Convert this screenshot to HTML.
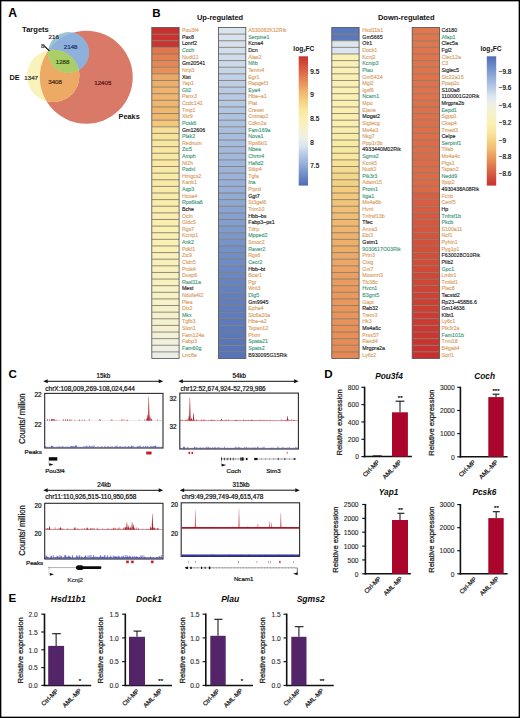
<!DOCTYPE html>
<html><head><meta charset="utf-8"><title>Figure</title>
<style>html,body{margin:0;padding:0;background:#fff;width:520px;height:718px;overflow:hidden}svg{display:block}</style>
</head><body>
<svg width="520" height="718" viewBox="0 0 520 718" font-family='"Liberation Sans", sans-serif'>
<defs><linearGradient id="gup" x1="0" y1="0" x2="0" y2="1"><stop offset="0.000" stop-color="#c83030"/><stop offset="0.050" stop-color="#d04838"/><stop offset="0.120" stop-color="#dc6848"/><stop offset="0.200" stop-color="#e89058"/><stop offset="0.280" stop-color="#f0b870"/><stop offset="0.340" stop-color="#f4d080"/><stop offset="0.410" stop-color="#f8e79e"/><stop offset="0.480" stop-color="#faf0b2"/><stop offset="0.550" stop-color="#f6f2c8"/><stop offset="0.630" stop-color="#eef0e4"/><stop offset="0.690" stop-color="#dce6f0"/><stop offset="0.740" stop-color="#c0d2e8"/><stop offset="0.820" stop-color="#9cb4dc"/><stop offset="0.890" stop-color="#7a98cc"/><stop offset="0.970" stop-color="#5a78bc"/><stop offset="1.000" stop-color="#4e6cb4"/></linearGradient><linearGradient id="gdn" x1="0" y1="0" x2="0" y2="1"><stop offset="0.000" stop-color="#4e6cb4"/><stop offset="0.030" stop-color="#5a78bc"/><stop offset="0.110" stop-color="#7a98cc"/><stop offset="0.180" stop-color="#9cb4dc"/><stop offset="0.260" stop-color="#c0d2e8"/><stop offset="0.310" stop-color="#dce6f0"/><stop offset="0.370" stop-color="#eef0e4"/><stop offset="0.450" stop-color="#f6f2c8"/><stop offset="0.520" stop-color="#faf0b2"/><stop offset="0.590" stop-color="#f8e79e"/><stop offset="0.660" stop-color="#f4d080"/><stop offset="0.720" stop-color="#f0b870"/><stop offset="0.800" stop-color="#e89058"/><stop offset="0.880" stop-color="#dc6848"/><stop offset="0.950" stop-color="#d04838"/><stop offset="1.000" stop-color="#c83030"/></linearGradient></defs>
<rect x="0" y="0" width="520" height="718" fill="#ffffff"/>
<text x="8.20" y="16.90" font-size="12.20" fill="#000" font-weight="bold">A</text>
<text x="152.30" y="17.20" font-size="11.60" fill="#000" font-weight="bold">B</text>
<text x="8.40" y="378.20" font-size="11.60" fill="#000" font-weight="bold">C</text>
<text x="324.20" y="377.80" font-size="11.60" fill="#000" font-weight="bold">D</text>
<text x="8.40" y="601.50" font-size="11.60" fill="#000" font-weight="bold">E</text>
<defs><clipPath id="cR"><circle cx="86.30" cy="77.25" r="46.45"/></clipPath><clipPath id="cB"><circle cx="68.50" cy="52.50" r="20.40"/></clipPath><clipPath id="cY"><circle cx="53.20" cy="75.85" r="26.20"/></clipPath></defs>
<circle cx="86.30" cy="77.25" r="46.45" fill="#d97968"/>
<circle cx="68.50" cy="52.50" r="20.40" fill="#9ec2d6"/>
<circle cx="53.20" cy="75.85" r="26.20" fill="#f9f3bb"/>
<g clip-path="url(#cR)"><circle cx="68.50" cy="52.50" r="20.40" fill="#8db1db"/></g>
<g clip-path="url(#cR)"><circle cx="53.20" cy="75.85" r="26.20" fill="#ecaa64"/></g>
<g clip-path="url(#cB)"><circle cx="53.20" cy="75.85" r="26.20" fill="#cfe0a6"/></g>
<g clip-path="url(#cR)"><g clip-path="url(#cB)"><circle cx="53.20" cy="75.85" r="26.20" fill="#abce68"/></g></g>
<text x="22.10" y="31.80" font-size="7.55" fill="#111" font-weight="bold">Targets</text>
<text x="48.50" y="38.80" font-size="6.20" fill="#333" stroke="#333" stroke-width="0.22">216</text>
<text x="41.00" y="47.80" font-size="6.20" fill="#333" stroke="#333" stroke-width="0.22">8</text>
<line x1="44.0" y1="45.6" x2="49.4" y2="50.8" stroke="#000" stroke-width="1.1"/>
<text x="63.80" y="48.80" font-size="6.20" fill="#23356e" stroke="#23356e" stroke-width="0.22">2148</text>
<text x="55.70" y="63.80" font-size="6.20" fill="#2e4a14" stroke="#2e4a14" stroke-width="0.22">1288</text>
<text x="9.40" y="79.80" font-size="7.30" fill="#111" font-weight="bold">DE</text>
<text x="24.30" y="79.60" font-size="6.20" fill="#333" stroke="#333" stroke-width="0.22">1347</text>
<text x="48.20" y="84.20" font-size="6.20" fill="#4a2a10" stroke="#4a2a10" stroke-width="0.22">3408</text>
<text x="94.20" y="85.30" font-size="6.20" fill="#5a1612" stroke="#5a1612" stroke-width="0.22">12405</text>
<text x="118.60" y="119.10" font-size="7.30" fill="#111" font-weight="bold">Peaks</text>
<text x="196.90" y="20.40" font-size="7.50" fill="#111" font-weight="bold">Up-regulated</text>
<text x="377.90" y="20.40" font-size="7.50" fill="#111" font-weight="bold">Down-regulated</text>
<rect x="151.80" y="27.50" width="27.30" height="6.62" fill="#c83030"/>
<rect x="151.80" y="34.12" width="27.30" height="6.62" fill="#c93231"/>
<rect x="151.80" y="40.74" width="27.30" height="6.62" fill="#ca3532"/>
<rect x="151.80" y="47.36" width="27.30" height="6.62" fill="#e0774e"/>
<rect x="151.80" y="53.98" width="27.30" height="6.62" fill="#e37f51"/>
<rect x="151.80" y="60.60" width="27.30" height="6.62" fill="#e68855"/>
<rect x="151.80" y="67.22" width="27.30" height="6.62" fill="#e89058"/>
<rect x="151.80" y="73.84" width="27.30" height="6.62" fill="#eda967"/>
<rect x="151.80" y="80.46" width="27.30" height="6.62" fill="#eeae6a"/>
<rect x="151.80" y="87.08" width="27.30" height="6.62" fill="#efb36d"/>
<rect x="151.80" y="93.70" width="27.30" height="6.62" fill="#efb46e"/>
<rect x="151.80" y="100.32" width="27.30" height="6.62" fill="#f0b66e"/>
<rect x="151.80" y="106.94" width="27.30" height="6.62" fill="#f0b76f"/>
<rect x="151.80" y="113.56" width="27.30" height="6.62" fill="#f0b870"/>
<rect x="151.80" y="120.18" width="27.30" height="6.62" fill="#f3c87b"/>
<rect x="151.80" y="126.80" width="27.30" height="6.62" fill="#f7e095"/>
<rect x="151.80" y="133.42" width="27.30" height="6.62" fill="#f7e49a"/>
<rect x="151.80" y="140.04" width="27.30" height="6.62" fill="#f8e79e"/>
<rect x="151.80" y="146.66" width="27.30" height="6.62" fill="#f8e8a1"/>
<rect x="151.80" y="153.28" width="27.30" height="6.62" fill="#f8e9a2"/>
<rect x="151.80" y="159.90" width="27.30" height="6.62" fill="#f9e9a3"/>
<rect x="151.80" y="166.52" width="27.30" height="6.62" fill="#f9eaa5"/>
<rect x="151.80" y="173.14" width="27.30" height="6.62" fill="#f9eaa6"/>
<rect x="151.80" y="179.76" width="27.30" height="6.62" fill="#f9eba7"/>
<rect x="151.80" y="186.38" width="27.30" height="6.62" fill="#f9eca8"/>
<rect x="151.80" y="193.00" width="27.30" height="6.62" fill="#f9eca9"/>
<rect x="151.80" y="199.62" width="27.30" height="6.62" fill="#f9edab"/>
<rect x="151.80" y="206.24" width="27.30" height="6.62" fill="#f9eead"/>
<rect x="151.80" y="212.86" width="27.30" height="6.62" fill="#faeeaf"/>
<rect x="151.80" y="219.48" width="27.30" height="6.62" fill="#faefb0"/>
<rect x="151.80" y="226.10" width="27.30" height="6.62" fill="#faf0b2"/>
<rect x="151.80" y="232.72" width="27.30" height="6.62" fill="#faf0b4"/>
<rect x="151.80" y="239.34" width="27.30" height="6.62" fill="#f9f0b6"/>
<rect x="151.80" y="245.96" width="27.30" height="6.62" fill="#f9f1b8"/>
<rect x="151.80" y="252.58" width="27.30" height="6.62" fill="#f9f1ba"/>
<rect x="151.80" y="259.20" width="27.30" height="6.62" fill="#f8f1bb"/>
<rect x="151.80" y="265.82" width="27.30" height="6.62" fill="#f8f1be"/>
<rect x="151.80" y="272.44" width="27.30" height="6.62" fill="#f7f1c0"/>
<rect x="151.80" y="279.06" width="27.30" height="6.62" fill="#f7f1c2"/>
<rect x="151.80" y="285.68" width="27.30" height="6.62" fill="#f7f2c4"/>
<rect x="151.80" y="292.30" width="27.30" height="6.62" fill="#f6f2c6"/>
<rect x="151.80" y="298.92" width="27.30" height="6.62" fill="#f6f2c9"/>
<rect x="151.80" y="305.54" width="27.30" height="6.62" fill="#f5f2cb"/>
<rect x="151.80" y="312.16" width="27.30" height="6.62" fill="#f4f2ce"/>
<rect x="151.80" y="318.78" width="27.30" height="6.62" fill="#f4f1d0"/>
<rect x="151.80" y="325.40" width="27.30" height="6.62" fill="#f3f1d2"/>
<rect x="151.80" y="332.02" width="27.30" height="6.62" fill="#f1f1d9"/>
<rect x="151.80" y="338.64" width="27.30" height="6.62" fill="#f0f0df"/>
<rect x="151.80" y="345.26" width="27.30" height="6.62" fill="#edf0e4"/>
<rect x="151.80" y="351.88" width="27.30" height="6.62" fill="#e8ede8"/>
<line x1="151.80" y1="34.12" x2="179.10" y2="34.12" stroke="#857a66" stroke-width="1.0" stroke-opacity="0.88"/>
<line x1="151.80" y1="40.74" x2="179.10" y2="40.74" stroke="#857a66" stroke-width="1.0" stroke-opacity="0.88"/>
<line x1="151.80" y1="47.36" x2="179.10" y2="47.36" stroke="#857a66" stroke-width="1.0" stroke-opacity="0.88"/>
<line x1="151.80" y1="53.98" x2="179.10" y2="53.98" stroke="#857a66" stroke-width="1.0" stroke-opacity="0.88"/>
<line x1="151.80" y1="60.60" x2="179.10" y2="60.60" stroke="#857a66" stroke-width="1.0" stroke-opacity="0.88"/>
<line x1="151.80" y1="67.22" x2="179.10" y2="67.22" stroke="#857a66" stroke-width="1.0" stroke-opacity="0.88"/>
<line x1="151.80" y1="73.84" x2="179.10" y2="73.84" stroke="#857a66" stroke-width="1.0" stroke-opacity="0.88"/>
<line x1="151.80" y1="80.46" x2="179.10" y2="80.46" stroke="#857a66" stroke-width="1.0" stroke-opacity="0.88"/>
<line x1="151.80" y1="87.08" x2="179.10" y2="87.08" stroke="#857a66" stroke-width="1.0" stroke-opacity="0.88"/>
<line x1="151.80" y1="93.70" x2="179.10" y2="93.70" stroke="#857a66" stroke-width="1.0" stroke-opacity="0.88"/>
<line x1="151.80" y1="100.32" x2="179.10" y2="100.32" stroke="#857a66" stroke-width="1.0" stroke-opacity="0.88"/>
<line x1="151.80" y1="106.94" x2="179.10" y2="106.94" stroke="#857a66" stroke-width="1.0" stroke-opacity="0.88"/>
<line x1="151.80" y1="113.56" x2="179.10" y2="113.56" stroke="#857a66" stroke-width="1.0" stroke-opacity="0.88"/>
<line x1="151.80" y1="120.18" x2="179.10" y2="120.18" stroke="#857a66" stroke-width="1.0" stroke-opacity="0.88"/>
<line x1="151.80" y1="126.80" x2="179.10" y2="126.80" stroke="#857a66" stroke-width="1.0" stroke-opacity="0.88"/>
<line x1="151.80" y1="133.42" x2="179.10" y2="133.42" stroke="#857a66" stroke-width="1.0" stroke-opacity="0.88"/>
<line x1="151.80" y1="140.04" x2="179.10" y2="140.04" stroke="#857a66" stroke-width="1.0" stroke-opacity="0.88"/>
<line x1="151.80" y1="146.66" x2="179.10" y2="146.66" stroke="#857a66" stroke-width="1.0" stroke-opacity="0.88"/>
<line x1="151.80" y1="153.28" x2="179.10" y2="153.28" stroke="#857a66" stroke-width="1.0" stroke-opacity="0.88"/>
<line x1="151.80" y1="159.90" x2="179.10" y2="159.90" stroke="#857a66" stroke-width="1.0" stroke-opacity="0.88"/>
<line x1="151.80" y1="166.52" x2="179.10" y2="166.52" stroke="#857a66" stroke-width="1.0" stroke-opacity="0.88"/>
<line x1="151.80" y1="173.14" x2="179.10" y2="173.14" stroke="#857a66" stroke-width="1.0" stroke-opacity="0.88"/>
<line x1="151.80" y1="179.76" x2="179.10" y2="179.76" stroke="#857a66" stroke-width="1.0" stroke-opacity="0.88"/>
<line x1="151.80" y1="186.38" x2="179.10" y2="186.38" stroke="#857a66" stroke-width="1.0" stroke-opacity="0.88"/>
<line x1="151.80" y1="193.00" x2="179.10" y2="193.00" stroke="#857a66" stroke-width="1.0" stroke-opacity="0.88"/>
<line x1="151.80" y1="199.62" x2="179.10" y2="199.62" stroke="#857a66" stroke-width="1.0" stroke-opacity="0.88"/>
<line x1="151.80" y1="206.24" x2="179.10" y2="206.24" stroke="#857a66" stroke-width="1.0" stroke-opacity="0.88"/>
<line x1="151.80" y1="212.86" x2="179.10" y2="212.86" stroke="#857a66" stroke-width="1.0" stroke-opacity="0.88"/>
<line x1="151.80" y1="219.48" x2="179.10" y2="219.48" stroke="#857a66" stroke-width="1.0" stroke-opacity="0.88"/>
<line x1="151.80" y1="226.10" x2="179.10" y2="226.10" stroke="#857a66" stroke-width="1.0" stroke-opacity="0.88"/>
<line x1="151.80" y1="232.72" x2="179.10" y2="232.72" stroke="#857a66" stroke-width="1.0" stroke-opacity="0.88"/>
<line x1="151.80" y1="239.34" x2="179.10" y2="239.34" stroke="#857a66" stroke-width="1.0" stroke-opacity="0.88"/>
<line x1="151.80" y1="245.96" x2="179.10" y2="245.96" stroke="#857a66" stroke-width="1.0" stroke-opacity="0.88"/>
<line x1="151.80" y1="252.58" x2="179.10" y2="252.58" stroke="#857a66" stroke-width="1.0" stroke-opacity="0.88"/>
<line x1="151.80" y1="259.20" x2="179.10" y2="259.20" stroke="#857a66" stroke-width="1.0" stroke-opacity="0.88"/>
<line x1="151.80" y1="265.82" x2="179.10" y2="265.82" stroke="#857a66" stroke-width="1.0" stroke-opacity="0.88"/>
<line x1="151.80" y1="272.44" x2="179.10" y2="272.44" stroke="#857a66" stroke-width="1.0" stroke-opacity="0.88"/>
<line x1="151.80" y1="279.06" x2="179.10" y2="279.06" stroke="#857a66" stroke-width="1.0" stroke-opacity="0.88"/>
<line x1="151.80" y1="285.68" x2="179.10" y2="285.68" stroke="#857a66" stroke-width="1.0" stroke-opacity="0.88"/>
<line x1="151.80" y1="292.30" x2="179.10" y2="292.30" stroke="#857a66" stroke-width="1.0" stroke-opacity="0.88"/>
<line x1="151.80" y1="298.92" x2="179.10" y2="298.92" stroke="#857a66" stroke-width="1.0" stroke-opacity="0.88"/>
<line x1="151.80" y1="305.54" x2="179.10" y2="305.54" stroke="#857a66" stroke-width="1.0" stroke-opacity="0.88"/>
<line x1="151.80" y1="312.16" x2="179.10" y2="312.16" stroke="#857a66" stroke-width="1.0" stroke-opacity="0.88"/>
<line x1="151.80" y1="318.78" x2="179.10" y2="318.78" stroke="#857a66" stroke-width="1.0" stroke-opacity="0.88"/>
<line x1="151.80" y1="325.40" x2="179.10" y2="325.40" stroke="#857a66" stroke-width="1.0" stroke-opacity="0.88"/>
<line x1="151.80" y1="332.02" x2="179.10" y2="332.02" stroke="#857a66" stroke-width="1.0" stroke-opacity="0.88"/>
<line x1="151.80" y1="338.64" x2="179.10" y2="338.64" stroke="#857a66" stroke-width="1.0" stroke-opacity="0.88"/>
<line x1="151.80" y1="345.26" x2="179.10" y2="345.26" stroke="#857a66" stroke-width="1.0" stroke-opacity="0.88"/>
<line x1="151.80" y1="351.88" x2="179.10" y2="351.88" stroke="#857a66" stroke-width="1.0" stroke-opacity="0.88"/>
<rect x="151.80" y="27.50" width="27.30" height="331.00" fill="none" stroke="#555" stroke-width="0.85"/>
<text x="181.90" y="32.21" font-size="5.30" fill="#d9a064" stroke="#d9a064" stroke-width="0.14">Pou3f4</text>
<text x="181.90" y="38.83" font-size="5.30" fill="#1a1a1a" stroke="#1a1a1a" stroke-width="0.14">Pax8</text>
<text x="181.90" y="45.45" font-size="5.30" fill="#1a1a1a" stroke="#1a1a1a" stroke-width="0.14">Lonrf2</text>
<text x="181.90" y="52.07" font-size="5.30" fill="#449a7a" stroke="#449a7a" stroke-width="0.14">Coch</text>
<text x="181.90" y="58.69" font-size="5.30" fill="#d9a064" stroke="#d9a064" stroke-width="0.14">Nudt11</text>
<text x="181.90" y="65.31" font-size="5.30" fill="#1a1a1a" stroke="#1a1a1a" stroke-width="0.14">Gm20541</text>
<text x="181.90" y="71.93" font-size="5.30" fill="#d9a064" stroke="#d9a064" stroke-width="0.14">Nrip3</text>
<text x="181.90" y="78.55" font-size="5.30" fill="#1a1a1a" stroke="#1a1a1a" stroke-width="0.14">Xist</text>
<text x="181.90" y="85.17" font-size="5.30" fill="#d9a064" stroke="#d9a064" stroke-width="0.14">Yap1</text>
<text x="181.90" y="91.79" font-size="5.30" fill="#449a7a" stroke="#449a7a" stroke-width="0.14">Gli2</text>
<text x="181.90" y="98.41" font-size="5.30" fill="#d9a064" stroke="#d9a064" stroke-width="0.14">Panx3</text>
<text x="181.90" y="105.03" font-size="5.30" fill="#d9a064" stroke="#d9a064" stroke-width="0.14">Ccdc141</text>
<text x="181.90" y="111.65" font-size="5.30" fill="#d9a064" stroke="#d9a064" stroke-width="0.14">Tmp1</text>
<text x="181.90" y="118.27" font-size="5.30" fill="#d9a064" stroke="#d9a064" stroke-width="0.14">Xkr9</text>
<text x="181.90" y="124.89" font-size="5.30" fill="#449a7a" stroke="#449a7a" stroke-width="0.14">Pcsk6</text>
<text x="181.90" y="131.51" font-size="5.30" fill="#1a1a1a" stroke="#1a1a1a" stroke-width="0.14">Gm12606</text>
<text x="181.90" y="138.13" font-size="5.30" fill="#449a7a" stroke="#449a7a" stroke-width="0.14">Plak2</text>
<text x="181.90" y="144.75" font-size="5.30" fill="#d9a064" stroke="#d9a064" stroke-width="0.14">Rednum</text>
<text x="181.90" y="151.37" font-size="5.30" fill="#449a7a" stroke="#449a7a" stroke-width="0.14">Zic5</text>
<text x="181.90" y="157.99" font-size="5.30" fill="#449a7a" stroke="#449a7a" stroke-width="0.14">Amph</text>
<text x="181.90" y="164.61" font-size="5.30" fill="#d9a064" stroke="#d9a064" stroke-width="0.14">Nt2h</text>
<text x="181.90" y="171.23" font-size="5.30" fill="#449a7a" stroke="#449a7a" stroke-width="0.14">Podxl</text>
<text x="181.90" y="177.85" font-size="5.30" fill="#d9a064" stroke="#d9a064" stroke-width="0.14">Hmgcs2</text>
<text x="181.90" y="184.47" font-size="5.30" fill="#d9a064" stroke="#d9a064" stroke-width="0.14">Kank1</text>
<text x="181.90" y="191.09" font-size="5.30" fill="#449a7a" stroke="#449a7a" stroke-width="0.14">Aqp3</text>
<text x="181.90" y="197.71" font-size="5.30" fill="#d9a064" stroke="#d9a064" stroke-width="0.14">Hoxa4</text>
<text x="181.90" y="204.33" font-size="5.30" fill="#449a7a" stroke="#449a7a" stroke-width="0.14">Rps6ka6</text>
<text x="181.90" y="210.95" font-size="5.30" fill="#1a1a1a" stroke="#1a1a1a" stroke-width="0.14">Bche</text>
<text x="181.90" y="217.57" font-size="5.30" fill="#d9a064" stroke="#d9a064" stroke-width="0.14">Ocln</text>
<text x="181.90" y="224.19" font-size="5.30" fill="#d9a064" stroke="#d9a064" stroke-width="0.14">Gldc5</text>
<text x="181.90" y="230.81" font-size="5.30" fill="#d9a064" stroke="#d9a064" stroke-width="0.14">Rgs7</text>
<text x="181.90" y="237.43" font-size="5.30" fill="#d9a064" stroke="#d9a064" stroke-width="0.14">Kcnip1</text>
<text x="181.90" y="244.05" font-size="5.30" fill="#449a7a" stroke="#449a7a" stroke-width="0.14">Ank2</text>
<text x="181.90" y="250.67" font-size="5.30" fill="#d9a064" stroke="#d9a064" stroke-width="0.14">Pdkl1</text>
<text x="181.90" y="257.29" font-size="5.30" fill="#d9a064" stroke="#d9a064" stroke-width="0.14">Zic9</text>
<text x="181.90" y="263.91" font-size="5.30" fill="#d9a064" stroke="#d9a064" stroke-width="0.14">Cldn5</text>
<text x="181.90" y="270.53" font-size="5.30" fill="#d9a064" stroke="#d9a064" stroke-width="0.14">Prok4</text>
<text x="181.90" y="277.15" font-size="5.30" fill="#d9a064" stroke="#d9a064" stroke-width="0.14">Dusp6</text>
<text x="181.90" y="283.77" font-size="5.30" fill="#449a7a" stroke="#449a7a" stroke-width="0.14">Rasl11a</text>
<text x="181.90" y="290.39" font-size="5.30" fill="#1a1a1a" stroke="#1a1a1a" stroke-width="0.14">Mest</text>
<text x="181.90" y="297.01" font-size="5.30" fill="#d9a064" stroke="#d9a064" stroke-width="0.14">Ndufa4l2</text>
<text x="181.90" y="303.63" font-size="5.30" fill="#d9a064" stroke="#d9a064" stroke-width="0.14">Plea</text>
<text x="181.90" y="310.25" font-size="5.30" fill="#d9a064" stroke="#d9a064" stroke-width="0.14">Dlx2</text>
<text x="181.90" y="316.87" font-size="5.30" fill="#449a7a" stroke="#449a7a" stroke-width="0.14">Mkx</text>
<text x="181.90" y="323.49" font-size="5.30" fill="#d9a064" stroke="#d9a064" stroke-width="0.14">Tgfb3</text>
<text x="181.90" y="330.11" font-size="5.30" fill="#d9a064" stroke="#d9a064" stroke-width="0.14">Ston1</text>
<text x="181.90" y="336.73" font-size="5.30" fill="#d9a064" stroke="#d9a064" stroke-width="0.14">Fam124a</text>
<text x="181.90" y="343.35" font-size="5.30" fill="#d9a064" stroke="#d9a064" stroke-width="0.14">Fabp3</text>
<text x="181.90" y="349.97" font-size="5.30" fill="#449a7a" stroke="#449a7a" stroke-width="0.14">Fam60g</text>
<text x="181.90" y="356.59" font-size="5.30" fill="#d9a064" stroke="#d9a064" stroke-width="0.14">Lrrc8e</text>
<rect x="218.50" y="27.50" width="27.30" height="6.62" fill="#d9e4ef"/>
<rect x="218.50" y="34.12" width="27.30" height="6.62" fill="#d6e2ee"/>
<rect x="218.50" y="40.74" width="27.30" height="6.62" fill="#d4e0ee"/>
<rect x="218.50" y="47.36" width="27.30" height="6.62" fill="#d1deed"/>
<rect x="218.50" y="53.98" width="27.30" height="6.62" fill="#cedcec"/>
<rect x="218.50" y="60.60" width="27.30" height="6.62" fill="#cad9eb"/>
<rect x="218.50" y="67.22" width="27.30" height="6.62" fill="#c5d6e9"/>
<rect x="218.50" y="73.84" width="27.30" height="6.62" fill="#c1d2e8"/>
<rect x="218.50" y="80.46" width="27.30" height="6.62" fill="#bdcfe7"/>
<rect x="218.50" y="87.08" width="27.30" height="6.62" fill="#b9cce6"/>
<rect x="218.50" y="93.70" width="27.30" height="6.62" fill="#b7cae5"/>
<rect x="218.50" y="100.32" width="27.30" height="6.62" fill="#b4c8e4"/>
<rect x="218.50" y="106.94" width="27.30" height="6.62" fill="#b1c6e3"/>
<rect x="218.50" y="113.56" width="27.30" height="6.62" fill="#aec3e2"/>
<rect x="218.50" y="120.18" width="27.30" height="6.62" fill="#acc1e1"/>
<rect x="218.50" y="126.80" width="27.30" height="6.62" fill="#a9bfe0"/>
<rect x="218.50" y="133.42" width="27.30" height="6.62" fill="#a7bde0"/>
<rect x="218.50" y="140.04" width="27.30" height="6.62" fill="#a5bbdf"/>
<rect x="218.50" y="146.66" width="27.30" height="6.62" fill="#a3bade"/>
<rect x="218.50" y="153.28" width="27.30" height="6.62" fill="#a0b8de"/>
<rect x="218.50" y="159.90" width="27.30" height="6.62" fill="#9eb6dd"/>
<rect x="218.50" y="166.52" width="27.30" height="6.62" fill="#9cb4dc"/>
<rect x="218.50" y="173.14" width="27.30" height="6.62" fill="#9ab2db"/>
<rect x="218.50" y="179.76" width="27.30" height="6.62" fill="#97b0da"/>
<rect x="218.50" y="186.38" width="27.30" height="6.62" fill="#95aed9"/>
<rect x="218.50" y="193.00" width="27.30" height="6.62" fill="#91abd7"/>
<rect x="218.50" y="199.62" width="27.30" height="6.62" fill="#8da8d5"/>
<rect x="218.50" y="206.24" width="27.30" height="6.62" fill="#89a4d3"/>
<rect x="218.50" y="212.86" width="27.30" height="6.62" fill="#85a1d1"/>
<rect x="218.50" y="219.48" width="27.30" height="6.62" fill="#819ecf"/>
<rect x="218.50" y="226.10" width="27.30" height="6.62" fill="#7d9bce"/>
<rect x="218.50" y="232.72" width="27.30" height="6.62" fill="#7a98cc"/>
<rect x="218.50" y="239.34" width="27.30" height="6.62" fill="#7694ca"/>
<rect x="218.50" y="245.96" width="27.30" height="6.62" fill="#7391c9"/>
<rect x="218.50" y="252.58" width="27.30" height="6.62" fill="#708ec7"/>
<rect x="218.50" y="259.20" width="27.30" height="6.62" fill="#6e8cc6"/>
<rect x="218.50" y="265.82" width="27.30" height="6.62" fill="#6b89c5"/>
<rect x="218.50" y="272.44" width="27.30" height="6.62" fill="#6987c3"/>
<rect x="218.50" y="279.06" width="27.30" height="6.62" fill="#6684c2"/>
<rect x="218.50" y="285.68" width="27.30" height="6.62" fill="#6482c1"/>
<rect x="218.50" y="292.30" width="27.30" height="6.62" fill="#6280c0"/>
<rect x="218.50" y="298.92" width="27.30" height="6.62" fill="#617fbf"/>
<rect x="218.50" y="305.54" width="27.30" height="6.62" fill="#5f7dbf"/>
<rect x="218.50" y="312.16" width="27.30" height="6.62" fill="#5e7cbe"/>
<rect x="218.50" y="318.78" width="27.30" height="6.62" fill="#5c7abd"/>
<rect x="218.50" y="325.40" width="27.30" height="6.62" fill="#5b79bc"/>
<rect x="218.50" y="332.02" width="27.30" height="6.62" fill="#5a78bc"/>
<rect x="218.50" y="338.64" width="27.30" height="6.62" fill="#5876bb"/>
<rect x="218.50" y="345.26" width="27.30" height="6.62" fill="#5775ba"/>
<rect x="218.50" y="351.88" width="27.30" height="6.62" fill="#5674b9"/>
<line x1="218.50" y1="34.12" x2="245.80" y2="34.12" stroke="#857a66" stroke-width="1.0" stroke-opacity="0.88"/>
<line x1="218.50" y1="40.74" x2="245.80" y2="40.74" stroke="#857a66" stroke-width="1.0" stroke-opacity="0.88"/>
<line x1="218.50" y1="47.36" x2="245.80" y2="47.36" stroke="#857a66" stroke-width="1.0" stroke-opacity="0.88"/>
<line x1="218.50" y1="53.98" x2="245.80" y2="53.98" stroke="#857a66" stroke-width="1.0" stroke-opacity="0.88"/>
<line x1="218.50" y1="60.60" x2="245.80" y2="60.60" stroke="#857a66" stroke-width="1.0" stroke-opacity="0.88"/>
<line x1="218.50" y1="67.22" x2="245.80" y2="67.22" stroke="#857a66" stroke-width="1.0" stroke-opacity="0.88"/>
<line x1="218.50" y1="73.84" x2="245.80" y2="73.84" stroke="#857a66" stroke-width="1.0" stroke-opacity="0.88"/>
<line x1="218.50" y1="80.46" x2="245.80" y2="80.46" stroke="#857a66" stroke-width="1.0" stroke-opacity="0.88"/>
<line x1="218.50" y1="87.08" x2="245.80" y2="87.08" stroke="#857a66" stroke-width="1.0" stroke-opacity="0.88"/>
<line x1="218.50" y1="93.70" x2="245.80" y2="93.70" stroke="#857a66" stroke-width="1.0" stroke-opacity="0.88"/>
<line x1="218.50" y1="100.32" x2="245.80" y2="100.32" stroke="#857a66" stroke-width="1.0" stroke-opacity="0.88"/>
<line x1="218.50" y1="106.94" x2="245.80" y2="106.94" stroke="#857a66" stroke-width="1.0" stroke-opacity="0.88"/>
<line x1="218.50" y1="113.56" x2="245.80" y2="113.56" stroke="#857a66" stroke-width="1.0" stroke-opacity="0.88"/>
<line x1="218.50" y1="120.18" x2="245.80" y2="120.18" stroke="#857a66" stroke-width="1.0" stroke-opacity="0.88"/>
<line x1="218.50" y1="126.80" x2="245.80" y2="126.80" stroke="#857a66" stroke-width="1.0" stroke-opacity="0.88"/>
<line x1="218.50" y1="133.42" x2="245.80" y2="133.42" stroke="#857a66" stroke-width="1.0" stroke-opacity="0.88"/>
<line x1="218.50" y1="140.04" x2="245.80" y2="140.04" stroke="#857a66" stroke-width="1.0" stroke-opacity="0.88"/>
<line x1="218.50" y1="146.66" x2="245.80" y2="146.66" stroke="#857a66" stroke-width="1.0" stroke-opacity="0.88"/>
<line x1="218.50" y1="153.28" x2="245.80" y2="153.28" stroke="#857a66" stroke-width="1.0" stroke-opacity="0.88"/>
<line x1="218.50" y1="159.90" x2="245.80" y2="159.90" stroke="#857a66" stroke-width="1.0" stroke-opacity="0.88"/>
<line x1="218.50" y1="166.52" x2="245.80" y2="166.52" stroke="#857a66" stroke-width="1.0" stroke-opacity="0.88"/>
<line x1="218.50" y1="173.14" x2="245.80" y2="173.14" stroke="#857a66" stroke-width="1.0" stroke-opacity="0.88"/>
<line x1="218.50" y1="179.76" x2="245.80" y2="179.76" stroke="#857a66" stroke-width="1.0" stroke-opacity="0.88"/>
<line x1="218.50" y1="186.38" x2="245.80" y2="186.38" stroke="#857a66" stroke-width="1.0" stroke-opacity="0.88"/>
<line x1="218.50" y1="193.00" x2="245.80" y2="193.00" stroke="#857a66" stroke-width="1.0" stroke-opacity="0.88"/>
<line x1="218.50" y1="199.62" x2="245.80" y2="199.62" stroke="#857a66" stroke-width="1.0" stroke-opacity="0.88"/>
<line x1="218.50" y1="206.24" x2="245.80" y2="206.24" stroke="#857a66" stroke-width="1.0" stroke-opacity="0.88"/>
<line x1="218.50" y1="212.86" x2="245.80" y2="212.86" stroke="#857a66" stroke-width="1.0" stroke-opacity="0.88"/>
<line x1="218.50" y1="219.48" x2="245.80" y2="219.48" stroke="#857a66" stroke-width="1.0" stroke-opacity="0.88"/>
<line x1="218.50" y1="226.10" x2="245.80" y2="226.10" stroke="#857a66" stroke-width="1.0" stroke-opacity="0.88"/>
<line x1="218.50" y1="232.72" x2="245.80" y2="232.72" stroke="#857a66" stroke-width="1.0" stroke-opacity="0.88"/>
<line x1="218.50" y1="239.34" x2="245.80" y2="239.34" stroke="#857a66" stroke-width="1.0" stroke-opacity="0.88"/>
<line x1="218.50" y1="245.96" x2="245.80" y2="245.96" stroke="#857a66" stroke-width="1.0" stroke-opacity="0.88"/>
<line x1="218.50" y1="252.58" x2="245.80" y2="252.58" stroke="#857a66" stroke-width="1.0" stroke-opacity="0.88"/>
<line x1="218.50" y1="259.20" x2="245.80" y2="259.20" stroke="#857a66" stroke-width="1.0" stroke-opacity="0.88"/>
<line x1="218.50" y1="265.82" x2="245.80" y2="265.82" stroke="#857a66" stroke-width="1.0" stroke-opacity="0.88"/>
<line x1="218.50" y1="272.44" x2="245.80" y2="272.44" stroke="#857a66" stroke-width="1.0" stroke-opacity="0.88"/>
<line x1="218.50" y1="279.06" x2="245.80" y2="279.06" stroke="#857a66" stroke-width="1.0" stroke-opacity="0.88"/>
<line x1="218.50" y1="285.68" x2="245.80" y2="285.68" stroke="#857a66" stroke-width="1.0" stroke-opacity="0.88"/>
<line x1="218.50" y1="292.30" x2="245.80" y2="292.30" stroke="#857a66" stroke-width="1.0" stroke-opacity="0.88"/>
<line x1="218.50" y1="298.92" x2="245.80" y2="298.92" stroke="#857a66" stroke-width="1.0" stroke-opacity="0.88"/>
<line x1="218.50" y1="305.54" x2="245.80" y2="305.54" stroke="#857a66" stroke-width="1.0" stroke-opacity="0.88"/>
<line x1="218.50" y1="312.16" x2="245.80" y2="312.16" stroke="#857a66" stroke-width="1.0" stroke-opacity="0.88"/>
<line x1="218.50" y1="318.78" x2="245.80" y2="318.78" stroke="#857a66" stroke-width="1.0" stroke-opacity="0.88"/>
<line x1="218.50" y1="325.40" x2="245.80" y2="325.40" stroke="#857a66" stroke-width="1.0" stroke-opacity="0.88"/>
<line x1="218.50" y1="332.02" x2="245.80" y2="332.02" stroke="#857a66" stroke-width="1.0" stroke-opacity="0.88"/>
<line x1="218.50" y1="338.64" x2="245.80" y2="338.64" stroke="#857a66" stroke-width="1.0" stroke-opacity="0.88"/>
<line x1="218.50" y1="345.26" x2="245.80" y2="345.26" stroke="#857a66" stroke-width="1.0" stroke-opacity="0.88"/>
<line x1="218.50" y1="351.88" x2="245.80" y2="351.88" stroke="#857a66" stroke-width="1.0" stroke-opacity="0.88"/>
<rect x="218.50" y="27.50" width="27.30" height="331.00" fill="none" stroke="#555" stroke-width="0.85"/>
<text x="248.20" y="32.21" font-size="5.30" fill="#d9a064" stroke="#d9a064" stroke-width="0.14">A530082K12Rik</text>
<text x="248.20" y="38.83" font-size="5.30" fill="#449a7a" stroke="#449a7a" stroke-width="0.14">Serpine1</text>
<text x="248.20" y="45.45" font-size="5.30" fill="#1a1a1a" stroke="#1a1a1a" stroke-width="0.14">Kcna4</text>
<text x="248.20" y="52.07" font-size="5.30" fill="#1a1a1a" stroke="#1a1a1a" stroke-width="0.14">Dcn</text>
<text x="248.20" y="58.69" font-size="5.30" fill="#d9a064" stroke="#d9a064" stroke-width="0.14">Alas2</text>
<text x="248.20" y="65.31" font-size="5.30" fill="#449a7a" stroke="#449a7a" stroke-width="0.14">Nfib</text>
<text x="248.20" y="71.93" font-size="5.30" fill="#d9a064" stroke="#d9a064" stroke-width="0.14">Tenm4</text>
<text x="248.20" y="78.55" font-size="5.30" fill="#d9a064" stroke="#d9a064" stroke-width="0.14">Egr1</text>
<text x="248.20" y="85.17" font-size="5.30" fill="#d9a064" stroke="#d9a064" stroke-width="0.14">Rapgef3</text>
<text x="248.20" y="91.79" font-size="5.30" fill="#449a7a" stroke="#449a7a" stroke-width="0.14">Eya4</text>
<text x="248.20" y="98.41" font-size="5.30" fill="#d9a064" stroke="#d9a064" stroke-width="0.14">Hba–a1</text>
<text x="248.20" y="105.03" font-size="5.30" fill="#d9a064" stroke="#d9a064" stroke-width="0.14">Plat</text>
<text x="248.20" y="111.65" font-size="5.30" fill="#d9a064" stroke="#d9a064" stroke-width="0.14">Crevet</text>
<text x="248.20" y="118.27" font-size="5.30" fill="#d9a064" stroke="#d9a064" stroke-width="0.14">Cntnap2</text>
<text x="248.20" y="124.89" font-size="5.30" fill="#d9a064" stroke="#d9a064" stroke-width="0.14">Cdkn2a</text>
<text x="248.20" y="131.51" font-size="5.30" fill="#449a7a" stroke="#449a7a" stroke-width="0.14">Fam169a</text>
<text x="248.20" y="138.13" font-size="5.30" fill="#449a7a" stroke="#449a7a" stroke-width="0.14">Nova1</text>
<text x="248.20" y="144.75" font-size="5.30" fill="#d9a064" stroke="#d9a064" stroke-width="0.14">Rps6kl1</text>
<text x="248.20" y="151.37" font-size="5.30" fill="#449a7a" stroke="#449a7a" stroke-width="0.14">Nbea</text>
<text x="248.20" y="157.99" font-size="5.30" fill="#449a7a" stroke="#449a7a" stroke-width="0.14">Chrm4</text>
<text x="248.20" y="164.61" font-size="5.30" fill="#449a7a" stroke="#449a7a" stroke-width="0.14">Hafid2</text>
<text x="248.20" y="171.23" font-size="5.30" fill="#d9a064" stroke="#d9a064" stroke-width="0.14">Stkp4</text>
<text x="248.20" y="177.85" font-size="5.30" fill="#d9a064" stroke="#d9a064" stroke-width="0.14">Tgfa</text>
<text x="248.20" y="184.47" font-size="5.30" fill="#449a7a" stroke="#449a7a" stroke-width="0.14">Ina</text>
<text x="248.20" y="191.09" font-size="5.30" fill="#d9a064" stroke="#d9a064" stroke-width="0.14">Ptprd</text>
<text x="248.20" y="197.71" font-size="5.30" fill="#1a1a1a" stroke="#1a1a1a" stroke-width="0.14">Ggt7</text>
<text x="248.20" y="204.33" font-size="5.30" fill="#d9a064" stroke="#d9a064" stroke-width="0.14">St3gal6</text>
<text x="248.20" y="210.95" font-size="5.30" fill="#d9a064" stroke="#d9a064" stroke-width="0.14">Trim10</text>
<text x="248.20" y="217.57" font-size="5.30" fill="#1a1a1a" stroke="#1a1a1a" stroke-width="0.14">Hbb–bs</text>
<text x="248.20" y="224.19" font-size="5.30" fill="#1a1a1a" stroke="#1a1a1a" stroke-width="0.14">Fabp3–ps1</text>
<text x="248.20" y="230.81" font-size="5.30" fill="#d9a064" stroke="#d9a064" stroke-width="0.14">Tdrp</text>
<text x="248.20" y="237.43" font-size="5.30" fill="#449a7a" stroke="#449a7a" stroke-width="0.14">Mpped2</text>
<text x="248.20" y="244.05" font-size="5.30" fill="#d9a064" stroke="#d9a064" stroke-width="0.14">Smoc2</text>
<text x="248.20" y="250.67" font-size="5.30" fill="#449a7a" stroke="#449a7a" stroke-width="0.14">Raver2</text>
<text x="248.20" y="257.29" font-size="5.30" fill="#d9a064" stroke="#d9a064" stroke-width="0.14">Rgs6</text>
<text x="248.20" y="263.91" font-size="5.30" fill="#449a7a" stroke="#449a7a" stroke-width="0.14">Cecr2</text>
<text x="248.20" y="270.53" font-size="5.30" fill="#1a1a1a" stroke="#1a1a1a" stroke-width="0.14">Hbb–bt</text>
<text x="248.20" y="277.15" font-size="5.30" fill="#d9a064" stroke="#d9a064" stroke-width="0.14">Bcar1</text>
<text x="248.20" y="283.77" font-size="5.30" fill="#d9a064" stroke="#d9a064" stroke-width="0.14">Pgr</text>
<text x="248.20" y="290.39" font-size="5.30" fill="#d9a064" stroke="#d9a064" stroke-width="0.14">Wnt3</text>
<text x="248.20" y="297.01" font-size="5.30" fill="#449a7a" stroke="#449a7a" stroke-width="0.14">Dlg5</text>
<text x="248.20" y="303.63" font-size="5.30" fill="#1a1a1a" stroke="#1a1a1a" stroke-width="0.14">Gm9945</text>
<text x="248.20" y="310.25" font-size="5.30" fill="#d9a064" stroke="#d9a064" stroke-width="0.14">Epha4</text>
<text x="248.20" y="316.87" font-size="5.30" fill="#d9a064" stroke="#d9a064" stroke-width="0.14">Slc6a20a</text>
<text x="248.20" y="323.49" font-size="5.30" fill="#d9a064" stroke="#d9a064" stroke-width="0.14">Hba–a2</text>
<text x="248.20" y="330.11" font-size="5.30" fill="#d9a064" stroke="#d9a064" stroke-width="0.14">Tspan12</text>
<text x="248.20" y="336.73" font-size="5.30" fill="#d9a064" stroke="#d9a064" stroke-width="0.14">Plxnr</text>
<text x="248.20" y="343.35" font-size="5.30" fill="#449a7a" stroke="#449a7a" stroke-width="0.14">Spata21</text>
<text x="248.20" y="349.97" font-size="5.30" fill="#449a7a" stroke="#449a7a" stroke-width="0.14">Spats2</text>
<text x="248.20" y="356.59" font-size="5.30" fill="#1a1a1a" stroke="#1a1a1a" stroke-width="0.14">B930095G15Rik</text>
<rect x="331.80" y="27.50" width="27.30" height="6.62" fill="#5a78bc"/>
<rect x="331.80" y="34.12" width="27.30" height="6.62" fill="#5a78bc"/>
<rect x="331.80" y="40.74" width="27.30" height="6.62" fill="#dce6f0"/>
<rect x="331.80" y="47.36" width="27.30" height="6.62" fill="#dce6f0"/>
<rect x="331.80" y="53.98" width="27.30" height="6.62" fill="#f9f1b8"/>
<rect x="331.80" y="60.60" width="27.30" height="6.62" fill="#f9f0b7"/>
<rect x="331.80" y="67.22" width="27.30" height="6.62" fill="#f9f0b6"/>
<rect x="331.80" y="73.84" width="27.30" height="6.62" fill="#f9f0b5"/>
<rect x="331.80" y="80.46" width="27.30" height="6.62" fill="#faf0b5"/>
<rect x="331.80" y="87.08" width="27.30" height="6.62" fill="#faf0b4"/>
<rect x="331.80" y="93.70" width="27.30" height="6.62" fill="#faf0b3"/>
<rect x="331.80" y="100.32" width="27.30" height="6.62" fill="#faf0b2"/>
<rect x="331.80" y="106.94" width="27.30" height="6.62" fill="#faefb1"/>
<rect x="331.80" y="113.56" width="27.30" height="6.62" fill="#faefb0"/>
<rect x="331.80" y="120.18" width="27.30" height="6.62" fill="#faefaf"/>
<rect x="331.80" y="126.80" width="27.30" height="6.62" fill="#f9edac"/>
<rect x="331.80" y="133.42" width="27.30" height="6.62" fill="#f9eca8"/>
<rect x="331.80" y="140.04" width="27.30" height="6.62" fill="#f9eaa5"/>
<rect x="331.80" y="146.66" width="27.30" height="6.62" fill="#f8e9a1"/>
<rect x="331.80" y="153.28" width="27.30" height="6.62" fill="#f8e79e"/>
<rect x="331.80" y="159.90" width="27.30" height="6.62" fill="#f7e297"/>
<rect x="331.80" y="166.52" width="27.30" height="6.62" fill="#f6dc90"/>
<rect x="331.80" y="173.14" width="27.30" height="6.62" fill="#f5d789"/>
<rect x="331.80" y="179.76" width="27.30" height="6.62" fill="#f4d283"/>
<rect x="331.80" y="186.38" width="27.30" height="6.62" fill="#f3cc7d"/>
<rect x="331.80" y="193.00" width="27.30" height="6.62" fill="#f3c87b"/>
<rect x="331.80" y="199.62" width="27.30" height="6.62" fill="#f2c478"/>
<rect x="331.80" y="206.24" width="27.30" height="6.62" fill="#f1c075"/>
<rect x="331.80" y="212.86" width="27.30" height="6.62" fill="#f1bc73"/>
<rect x="331.80" y="219.48" width="27.30" height="6.62" fill="#f0b870"/>
<rect x="331.80" y="226.10" width="27.30" height="6.62" fill="#efb56e"/>
<rect x="331.80" y="232.72" width="27.30" height="6.62" fill="#efb26c"/>
<rect x="331.80" y="239.34" width="27.30" height="6.62" fill="#eeaf6b"/>
<rect x="331.80" y="245.96" width="27.30" height="6.62" fill="#eeac69"/>
<rect x="331.80" y="252.58" width="27.30" height="6.62" fill="#eda967"/>
<rect x="331.80" y="259.20" width="27.30" height="6.62" fill="#eca665"/>
<rect x="331.80" y="265.82" width="27.30" height="6.62" fill="#eca363"/>
<rect x="331.80" y="272.44" width="27.30" height="6.62" fill="#eba062"/>
<rect x="331.80" y="279.06" width="27.30" height="6.62" fill="#eb9d60"/>
<rect x="331.80" y="285.68" width="27.30" height="6.62" fill="#ea9a5e"/>
<rect x="331.80" y="292.30" width="27.30" height="6.62" fill="#ea985d"/>
<rect x="331.80" y="298.92" width="27.30" height="6.62" fill="#e9975c"/>
<rect x="331.80" y="305.54" width="27.30" height="6.62" fill="#e9965b"/>
<rect x="331.80" y="312.16" width="27.30" height="6.62" fill="#e9945a"/>
<rect x="331.80" y="318.78" width="27.30" height="6.62" fill="#e89259"/>
<rect x="331.80" y="325.40" width="27.30" height="6.62" fill="#e89058"/>
<rect x="331.80" y="332.02" width="27.30" height="6.62" fill="#e88e57"/>
<rect x="331.80" y="338.64" width="27.30" height="6.62" fill="#e78c57"/>
<rect x="331.80" y="345.26" width="27.30" height="6.62" fill="#e68a56"/>
<rect x="331.80" y="351.88" width="27.30" height="6.62" fill="#e68855"/>
<line x1="331.80" y1="34.12" x2="359.10" y2="34.12" stroke="#857a66" stroke-width="1.0" stroke-opacity="0.88"/>
<line x1="331.80" y1="40.74" x2="359.10" y2="40.74" stroke="#857a66" stroke-width="1.0" stroke-opacity="0.88"/>
<line x1="331.80" y1="47.36" x2="359.10" y2="47.36" stroke="#857a66" stroke-width="1.0" stroke-opacity="0.88"/>
<line x1="331.80" y1="53.98" x2="359.10" y2="53.98" stroke="#857a66" stroke-width="1.0" stroke-opacity="0.88"/>
<line x1="331.80" y1="60.60" x2="359.10" y2="60.60" stroke="#857a66" stroke-width="1.0" stroke-opacity="0.88"/>
<line x1="331.80" y1="67.22" x2="359.10" y2="67.22" stroke="#857a66" stroke-width="1.0" stroke-opacity="0.88"/>
<line x1="331.80" y1="73.84" x2="359.10" y2="73.84" stroke="#857a66" stroke-width="1.0" stroke-opacity="0.88"/>
<line x1="331.80" y1="80.46" x2="359.10" y2="80.46" stroke="#857a66" stroke-width="1.0" stroke-opacity="0.88"/>
<line x1="331.80" y1="87.08" x2="359.10" y2="87.08" stroke="#857a66" stroke-width="1.0" stroke-opacity="0.88"/>
<line x1="331.80" y1="93.70" x2="359.10" y2="93.70" stroke="#857a66" stroke-width="1.0" stroke-opacity="0.88"/>
<line x1="331.80" y1="100.32" x2="359.10" y2="100.32" stroke="#857a66" stroke-width="1.0" stroke-opacity="0.88"/>
<line x1="331.80" y1="106.94" x2="359.10" y2="106.94" stroke="#857a66" stroke-width="1.0" stroke-opacity="0.88"/>
<line x1="331.80" y1="113.56" x2="359.10" y2="113.56" stroke="#857a66" stroke-width="1.0" stroke-opacity="0.88"/>
<line x1="331.80" y1="120.18" x2="359.10" y2="120.18" stroke="#857a66" stroke-width="1.0" stroke-opacity="0.88"/>
<line x1="331.80" y1="126.80" x2="359.10" y2="126.80" stroke="#857a66" stroke-width="1.0" stroke-opacity="0.88"/>
<line x1="331.80" y1="133.42" x2="359.10" y2="133.42" stroke="#857a66" stroke-width="1.0" stroke-opacity="0.88"/>
<line x1="331.80" y1="140.04" x2="359.10" y2="140.04" stroke="#857a66" stroke-width="1.0" stroke-opacity="0.88"/>
<line x1="331.80" y1="146.66" x2="359.10" y2="146.66" stroke="#857a66" stroke-width="1.0" stroke-opacity="0.88"/>
<line x1="331.80" y1="153.28" x2="359.10" y2="153.28" stroke="#857a66" stroke-width="1.0" stroke-opacity="0.88"/>
<line x1="331.80" y1="159.90" x2="359.10" y2="159.90" stroke="#857a66" stroke-width="1.0" stroke-opacity="0.88"/>
<line x1="331.80" y1="166.52" x2="359.10" y2="166.52" stroke="#857a66" stroke-width="1.0" stroke-opacity="0.88"/>
<line x1="331.80" y1="173.14" x2="359.10" y2="173.14" stroke="#857a66" stroke-width="1.0" stroke-opacity="0.88"/>
<line x1="331.80" y1="179.76" x2="359.10" y2="179.76" stroke="#857a66" stroke-width="1.0" stroke-opacity="0.88"/>
<line x1="331.80" y1="186.38" x2="359.10" y2="186.38" stroke="#857a66" stroke-width="1.0" stroke-opacity="0.88"/>
<line x1="331.80" y1="193.00" x2="359.10" y2="193.00" stroke="#857a66" stroke-width="1.0" stroke-opacity="0.88"/>
<line x1="331.80" y1="199.62" x2="359.10" y2="199.62" stroke="#857a66" stroke-width="1.0" stroke-opacity="0.88"/>
<line x1="331.80" y1="206.24" x2="359.10" y2="206.24" stroke="#857a66" stroke-width="1.0" stroke-opacity="0.88"/>
<line x1="331.80" y1="212.86" x2="359.10" y2="212.86" stroke="#857a66" stroke-width="1.0" stroke-opacity="0.88"/>
<line x1="331.80" y1="219.48" x2="359.10" y2="219.48" stroke="#857a66" stroke-width="1.0" stroke-opacity="0.88"/>
<line x1="331.80" y1="226.10" x2="359.10" y2="226.10" stroke="#857a66" stroke-width="1.0" stroke-opacity="0.88"/>
<line x1="331.80" y1="232.72" x2="359.10" y2="232.72" stroke="#857a66" stroke-width="1.0" stroke-opacity="0.88"/>
<line x1="331.80" y1="239.34" x2="359.10" y2="239.34" stroke="#857a66" stroke-width="1.0" stroke-opacity="0.88"/>
<line x1="331.80" y1="245.96" x2="359.10" y2="245.96" stroke="#857a66" stroke-width="1.0" stroke-opacity="0.88"/>
<line x1="331.80" y1="252.58" x2="359.10" y2="252.58" stroke="#857a66" stroke-width="1.0" stroke-opacity="0.88"/>
<line x1="331.80" y1="259.20" x2="359.10" y2="259.20" stroke="#857a66" stroke-width="1.0" stroke-opacity="0.88"/>
<line x1="331.80" y1="265.82" x2="359.10" y2="265.82" stroke="#857a66" stroke-width="1.0" stroke-opacity="0.88"/>
<line x1="331.80" y1="272.44" x2="359.10" y2="272.44" stroke="#857a66" stroke-width="1.0" stroke-opacity="0.88"/>
<line x1="331.80" y1="279.06" x2="359.10" y2="279.06" stroke="#857a66" stroke-width="1.0" stroke-opacity="0.88"/>
<line x1="331.80" y1="285.68" x2="359.10" y2="285.68" stroke="#857a66" stroke-width="1.0" stroke-opacity="0.88"/>
<line x1="331.80" y1="292.30" x2="359.10" y2="292.30" stroke="#857a66" stroke-width="1.0" stroke-opacity="0.88"/>
<line x1="331.80" y1="298.92" x2="359.10" y2="298.92" stroke="#857a66" stroke-width="1.0" stroke-opacity="0.88"/>
<line x1="331.80" y1="305.54" x2="359.10" y2="305.54" stroke="#857a66" stroke-width="1.0" stroke-opacity="0.88"/>
<line x1="331.80" y1="312.16" x2="359.10" y2="312.16" stroke="#857a66" stroke-width="1.0" stroke-opacity="0.88"/>
<line x1="331.80" y1="318.78" x2="359.10" y2="318.78" stroke="#857a66" stroke-width="1.0" stroke-opacity="0.88"/>
<line x1="331.80" y1="325.40" x2="359.10" y2="325.40" stroke="#857a66" stroke-width="1.0" stroke-opacity="0.88"/>
<line x1="331.80" y1="332.02" x2="359.10" y2="332.02" stroke="#857a66" stroke-width="1.0" stroke-opacity="0.88"/>
<line x1="331.80" y1="338.64" x2="359.10" y2="338.64" stroke="#857a66" stroke-width="1.0" stroke-opacity="0.88"/>
<line x1="331.80" y1="345.26" x2="359.10" y2="345.26" stroke="#857a66" stroke-width="1.0" stroke-opacity="0.88"/>
<line x1="331.80" y1="351.88" x2="359.10" y2="351.88" stroke="#857a66" stroke-width="1.0" stroke-opacity="0.88"/>
<rect x="331.80" y="27.50" width="27.30" height="331.00" fill="none" stroke="#555" stroke-width="0.85"/>
<text x="362.30" y="32.21" font-size="5.30" fill="#d9a064" stroke="#d9a064" stroke-width="0.14">Hsd11b1</text>
<text x="362.30" y="38.83" font-size="5.30" fill="#1a1a1a" stroke="#1a1a1a" stroke-width="0.14">Gm5665</text>
<text x="362.30" y="45.45" font-size="5.30" fill="#1a1a1a" stroke="#1a1a1a" stroke-width="0.14">Olr1</text>
<text x="362.30" y="52.07" font-size="5.30" fill="#d9a064" stroke="#d9a064" stroke-width="0.14">Dock1</text>
<text x="362.30" y="58.69" font-size="5.30" fill="#d9a064" stroke="#d9a064" stroke-width="0.14">Kcnj2</text>
<text x="362.30" y="65.31" font-size="5.30" fill="#449a7a" stroke="#449a7a" stroke-width="0.14">Kcnip3</text>
<text x="362.30" y="71.93" font-size="5.30" fill="#449a7a" stroke="#449a7a" stroke-width="0.14">Plau</text>
<text x="362.30" y="78.55" font-size="5.30" fill="#d9a064" stroke="#d9a064" stroke-width="0.14">Gm5424</text>
<text x="362.30" y="85.17" font-size="5.30" fill="#d9a064" stroke="#d9a064" stroke-width="0.14">Mgl2</text>
<text x="362.30" y="91.79" font-size="5.30" fill="#d9a064" stroke="#d9a064" stroke-width="0.14">Igsf6</text>
<text x="362.30" y="98.41" font-size="5.30" fill="#449a7a" stroke="#449a7a" stroke-width="0.14">Ncam1</text>
<text x="362.30" y="105.03" font-size="5.30" fill="#d9a064" stroke="#d9a064" stroke-width="0.14">Mpo</text>
<text x="362.30" y="111.65" font-size="5.30" fill="#d9a064" stroke="#d9a064" stroke-width="0.14">Elane</text>
<text x="362.30" y="118.27" font-size="5.30" fill="#1a1a1a" stroke="#1a1a1a" stroke-width="0.14">Mogat2</text>
<text x="362.30" y="124.89" font-size="5.30" fill="#d9a064" stroke="#d9a064" stroke-width="0.14">Siglecg</text>
<text x="362.30" y="131.51" font-size="5.30" fill="#d9a064" stroke="#d9a064" stroke-width="0.14">Ms4a3</text>
<text x="362.30" y="138.13" font-size="5.30" fill="#d9a064" stroke="#d9a064" stroke-width="0.14">Nkg7</text>
<text x="362.30" y="144.75" font-size="5.30" fill="#d9a064" stroke="#d9a064" stroke-width="0.14">Ppp1r3b</text>
<text x="362.30" y="151.37" font-size="5.30" fill="#1a1a1a" stroke="#1a1a1a" stroke-width="0.14">4933440M02Rik</text>
<text x="362.30" y="157.99" font-size="5.30" fill="#449a7a" stroke="#449a7a" stroke-width="0.14">Sgms2</text>
<text x="362.30" y="164.61" font-size="5.30" fill="#d9a064" stroke="#d9a064" stroke-width="0.14">Kcnk5</text>
<text x="362.30" y="171.23" font-size="5.30" fill="#d9a064" stroke="#d9a064" stroke-width="0.14">Nudt2</text>
<text x="362.30" y="177.85" font-size="5.30" fill="#449a7a" stroke="#449a7a" stroke-width="0.14">Pik3r3</text>
<text x="362.30" y="184.47" font-size="5.30" fill="#d9a064" stroke="#d9a064" stroke-width="0.14">Adam15</text>
<text x="362.30" y="191.09" font-size="5.30" fill="#449a7a" stroke="#449a7a" stroke-width="0.14">Prom1</text>
<text x="362.30" y="197.71" font-size="5.30" fill="#449a7a" stroke="#449a7a" stroke-width="0.14">Itga1</text>
<text x="362.30" y="204.33" font-size="5.30" fill="#d9a064" stroke="#d9a064" stroke-width="0.14">Ms4a6b</text>
<text x="362.30" y="210.95" font-size="5.30" fill="#d9a064" stroke="#d9a064" stroke-width="0.14">Hvnt</text>
<text x="362.30" y="217.57" font-size="5.30" fill="#d9a064" stroke="#d9a064" stroke-width="0.14">Tnfrsf13b</text>
<text x="362.30" y="224.19" font-size="5.30" fill="#1a1a1a" stroke="#1a1a1a" stroke-width="0.14">Tfec</text>
<text x="362.30" y="230.81" font-size="5.30" fill="#d9a064" stroke="#d9a064" stroke-width="0.14">Anxa3</text>
<text x="362.30" y="237.43" font-size="5.30" fill="#d9a064" stroke="#d9a064" stroke-width="0.14">Ebi3</text>
<text x="362.30" y="244.05" font-size="5.30" fill="#1a1a1a" stroke="#1a1a1a" stroke-width="0.14">Gstm1</text>
<text x="362.30" y="250.67" font-size="5.30" fill="#449a7a" stroke="#449a7a" stroke-width="0.14">9030617O03Rik</text>
<text x="362.30" y="257.29" font-size="5.30" fill="#d9a064" stroke="#d9a064" stroke-width="0.14">Prtn3</text>
<text x="362.30" y="263.91" font-size="5.30" fill="#d9a064" stroke="#d9a064" stroke-width="0.14">Ctsg</text>
<text x="362.30" y="270.53" font-size="5.30" fill="#d9a064" stroke="#d9a064" stroke-width="0.14">Gni7</text>
<text x="362.30" y="277.15" font-size="5.30" fill="#d9a064" stroke="#d9a064" stroke-width="0.14">Mosmrt3</text>
<text x="362.30" y="283.77" font-size="5.30" fill="#d9a064" stroke="#d9a064" stroke-width="0.14">Tlc38c</text>
<text x="362.30" y="290.39" font-size="5.30" fill="#449a7a" stroke="#449a7a" stroke-width="0.14">Hvcn1</text>
<text x="362.30" y="297.01" font-size="5.30" fill="#449a7a" stroke="#449a7a" stroke-width="0.14">B3gnt5</text>
<text x="362.30" y="303.63" font-size="5.30" fill="#d9a064" stroke="#d9a064" stroke-width="0.14">Gapt</text>
<text x="362.30" y="310.25" font-size="5.30" fill="#1a1a1a" stroke="#1a1a1a" stroke-width="0.14">Rab32</text>
<text x="362.30" y="316.87" font-size="5.30" fill="#d9a064" stroke="#d9a064" stroke-width="0.14">Trem3</text>
<text x="362.30" y="323.49" font-size="5.30" fill="#d9a064" stroke="#d9a064" stroke-width="0.14">Hk3</text>
<text x="362.30" y="330.11" font-size="5.30" fill="#1a1a1a" stroke="#1a1a1a" stroke-width="0.14">Ms4a6c</text>
<text x="362.30" y="336.73" font-size="5.30" fill="#d9a064" stroke="#d9a064" stroke-width="0.14">Prss57</text>
<text x="362.30" y="343.35" font-size="5.30" fill="#d9a064" stroke="#d9a064" stroke-width="0.14">Rasd4</text>
<text x="362.30" y="349.97" font-size="5.30" fill="#1a1a1a" stroke="#1a1a1a" stroke-width="0.14">Mrgpra2a</text>
<text x="362.30" y="356.59" font-size="5.30" fill="#d9a064" stroke="#d9a064" stroke-width="0.14">Ly6c2</text>
<rect x="412.20" y="27.50" width="27.30" height="6.62" fill="#e0774e"/>
<rect x="412.20" y="34.12" width="27.30" height="6.62" fill="#e0764e"/>
<rect x="412.20" y="40.74" width="27.30" height="6.62" fill="#e0764e"/>
<rect x="412.20" y="47.36" width="27.30" height="6.62" fill="#e0754d"/>
<rect x="412.20" y="53.98" width="27.30" height="6.62" fill="#e0744d"/>
<rect x="412.20" y="60.60" width="27.30" height="6.62" fill="#e0744d"/>
<rect x="412.20" y="67.22" width="27.30" height="6.62" fill="#df734c"/>
<rect x="412.20" y="73.84" width="27.30" height="6.62" fill="#df734c"/>
<rect x="412.20" y="80.46" width="27.30" height="6.62" fill="#df724c"/>
<rect x="412.20" y="87.08" width="27.30" height="6.62" fill="#df714c"/>
<rect x="412.20" y="93.70" width="27.30" height="6.62" fill="#df714c"/>
<rect x="412.20" y="100.32" width="27.30" height="6.62" fill="#de704b"/>
<rect x="412.20" y="106.94" width="27.30" height="6.62" fill="#de704b"/>
<rect x="412.20" y="113.56" width="27.30" height="6.62" fill="#de6f4b"/>
<rect x="412.20" y="120.18" width="27.30" height="6.62" fill="#de6e4a"/>
<rect x="412.20" y="126.80" width="27.30" height="6.62" fill="#de6e4a"/>
<rect x="412.20" y="133.42" width="27.30" height="6.62" fill="#de6d4a"/>
<rect x="412.20" y="140.04" width="27.30" height="6.62" fill="#dd6c4a"/>
<rect x="412.20" y="146.66" width="27.30" height="6.62" fill="#dd6c4a"/>
<rect x="412.20" y="153.28" width="27.30" height="6.62" fill="#dd6b49"/>
<rect x="412.20" y="159.90" width="27.30" height="6.62" fill="#dd6a49"/>
<rect x="412.20" y="166.52" width="27.30" height="6.62" fill="#dd6a49"/>
<rect x="412.20" y="173.14" width="27.30" height="6.62" fill="#dc6948"/>
<rect x="412.20" y="179.76" width="27.30" height="6.62" fill="#dc6948"/>
<rect x="412.20" y="186.38" width="27.30" height="6.62" fill="#dc6848"/>
<rect x="412.20" y="193.00" width="27.30" height="6.62" fill="#d95f43"/>
<rect x="412.20" y="199.62" width="27.30" height="6.62" fill="#d85d42"/>
<rect x="412.20" y="206.24" width="27.30" height="6.62" fill="#d75b41"/>
<rect x="412.20" y="212.86" width="27.30" height="6.62" fill="#d65940"/>
<rect x="412.20" y="219.48" width="27.30" height="6.62" fill="#d6573f"/>
<rect x="412.20" y="226.10" width="27.30" height="6.62" fill="#d5553e"/>
<rect x="412.20" y="232.72" width="27.30" height="6.62" fill="#d4533d"/>
<rect x="412.20" y="239.34" width="27.30" height="6.62" fill="#d3513c"/>
<rect x="412.20" y="245.96" width="27.30" height="6.62" fill="#d24f3b"/>
<rect x="412.20" y="252.58" width="27.30" height="6.62" fill="#d24d3a"/>
<rect x="412.20" y="259.20" width="27.30" height="6.62" fill="#d14b39"/>
<rect x="412.20" y="265.82" width="27.30" height="6.62" fill="#d04938"/>
<rect x="412.20" y="272.44" width="27.30" height="6.62" fill="#d04738"/>
<rect x="412.20" y="279.06" width="27.30" height="6.62" fill="#cf4537"/>
<rect x="412.20" y="285.68" width="27.30" height="6.62" fill="#ce4336"/>
<rect x="412.20" y="292.30" width="27.30" height="6.62" fill="#ce4136"/>
<rect x="412.20" y="298.92" width="27.30" height="6.62" fill="#cd3f35"/>
<rect x="412.20" y="305.54" width="27.30" height="6.62" fill="#cc3d34"/>
<rect x="412.20" y="312.16" width="27.30" height="6.62" fill="#cc3c34"/>
<rect x="412.20" y="318.78" width="27.30" height="6.62" fill="#cb3a33"/>
<rect x="412.20" y="325.40" width="27.30" height="6.62" fill="#cb3833"/>
<rect x="412.20" y="332.02" width="27.30" height="6.62" fill="#ca3632"/>
<rect x="412.20" y="338.64" width="27.30" height="6.62" fill="#c93431"/>
<rect x="412.20" y="345.26" width="27.30" height="6.62" fill="#c93231"/>
<rect x="412.20" y="351.88" width="27.30" height="6.62" fill="#c83030"/>
<line x1="412.20" y1="34.12" x2="439.50" y2="34.12" stroke="#857a66" stroke-width="1.0" stroke-opacity="0.88"/>
<line x1="412.20" y1="40.74" x2="439.50" y2="40.74" stroke="#857a66" stroke-width="1.0" stroke-opacity="0.88"/>
<line x1="412.20" y1="47.36" x2="439.50" y2="47.36" stroke="#857a66" stroke-width="1.0" stroke-opacity="0.88"/>
<line x1="412.20" y1="53.98" x2="439.50" y2="53.98" stroke="#857a66" stroke-width="1.0" stroke-opacity="0.88"/>
<line x1="412.20" y1="60.60" x2="439.50" y2="60.60" stroke="#857a66" stroke-width="1.0" stroke-opacity="0.88"/>
<line x1="412.20" y1="67.22" x2="439.50" y2="67.22" stroke="#857a66" stroke-width="1.0" stroke-opacity="0.88"/>
<line x1="412.20" y1="73.84" x2="439.50" y2="73.84" stroke="#857a66" stroke-width="1.0" stroke-opacity="0.88"/>
<line x1="412.20" y1="80.46" x2="439.50" y2="80.46" stroke="#857a66" stroke-width="1.0" stroke-opacity="0.88"/>
<line x1="412.20" y1="87.08" x2="439.50" y2="87.08" stroke="#857a66" stroke-width="1.0" stroke-opacity="0.88"/>
<line x1="412.20" y1="93.70" x2="439.50" y2="93.70" stroke="#857a66" stroke-width="1.0" stroke-opacity="0.88"/>
<line x1="412.20" y1="100.32" x2="439.50" y2="100.32" stroke="#857a66" stroke-width="1.0" stroke-opacity="0.88"/>
<line x1="412.20" y1="106.94" x2="439.50" y2="106.94" stroke="#857a66" stroke-width="1.0" stroke-opacity="0.88"/>
<line x1="412.20" y1="113.56" x2="439.50" y2="113.56" stroke="#857a66" stroke-width="1.0" stroke-opacity="0.88"/>
<line x1="412.20" y1="120.18" x2="439.50" y2="120.18" stroke="#857a66" stroke-width="1.0" stroke-opacity="0.88"/>
<line x1="412.20" y1="126.80" x2="439.50" y2="126.80" stroke="#857a66" stroke-width="1.0" stroke-opacity="0.88"/>
<line x1="412.20" y1="133.42" x2="439.50" y2="133.42" stroke="#857a66" stroke-width="1.0" stroke-opacity="0.88"/>
<line x1="412.20" y1="140.04" x2="439.50" y2="140.04" stroke="#857a66" stroke-width="1.0" stroke-opacity="0.88"/>
<line x1="412.20" y1="146.66" x2="439.50" y2="146.66" stroke="#857a66" stroke-width="1.0" stroke-opacity="0.88"/>
<line x1="412.20" y1="153.28" x2="439.50" y2="153.28" stroke="#857a66" stroke-width="1.0" stroke-opacity="0.88"/>
<line x1="412.20" y1="159.90" x2="439.50" y2="159.90" stroke="#857a66" stroke-width="1.0" stroke-opacity="0.88"/>
<line x1="412.20" y1="166.52" x2="439.50" y2="166.52" stroke="#857a66" stroke-width="1.0" stroke-opacity="0.88"/>
<line x1="412.20" y1="173.14" x2="439.50" y2="173.14" stroke="#857a66" stroke-width="1.0" stroke-opacity="0.88"/>
<line x1="412.20" y1="179.76" x2="439.50" y2="179.76" stroke="#857a66" stroke-width="1.0" stroke-opacity="0.88"/>
<line x1="412.20" y1="186.38" x2="439.50" y2="186.38" stroke="#857a66" stroke-width="1.0" stroke-opacity="0.88"/>
<line x1="412.20" y1="193.00" x2="439.50" y2="193.00" stroke="#857a66" stroke-width="1.0" stroke-opacity="0.88"/>
<line x1="412.20" y1="199.62" x2="439.50" y2="199.62" stroke="#857a66" stroke-width="1.0" stroke-opacity="0.88"/>
<line x1="412.20" y1="206.24" x2="439.50" y2="206.24" stroke="#857a66" stroke-width="1.0" stroke-opacity="0.88"/>
<line x1="412.20" y1="212.86" x2="439.50" y2="212.86" stroke="#857a66" stroke-width="1.0" stroke-opacity="0.88"/>
<line x1="412.20" y1="219.48" x2="439.50" y2="219.48" stroke="#857a66" stroke-width="1.0" stroke-opacity="0.88"/>
<line x1="412.20" y1="226.10" x2="439.50" y2="226.10" stroke="#857a66" stroke-width="1.0" stroke-opacity="0.88"/>
<line x1="412.20" y1="232.72" x2="439.50" y2="232.72" stroke="#857a66" stroke-width="1.0" stroke-opacity="0.88"/>
<line x1="412.20" y1="239.34" x2="439.50" y2="239.34" stroke="#857a66" stroke-width="1.0" stroke-opacity="0.88"/>
<line x1="412.20" y1="245.96" x2="439.50" y2="245.96" stroke="#857a66" stroke-width="1.0" stroke-opacity="0.88"/>
<line x1="412.20" y1="252.58" x2="439.50" y2="252.58" stroke="#857a66" stroke-width="1.0" stroke-opacity="0.88"/>
<line x1="412.20" y1="259.20" x2="439.50" y2="259.20" stroke="#857a66" stroke-width="1.0" stroke-opacity="0.88"/>
<line x1="412.20" y1="265.82" x2="439.50" y2="265.82" stroke="#857a66" stroke-width="1.0" stroke-opacity="0.88"/>
<line x1="412.20" y1="272.44" x2="439.50" y2="272.44" stroke="#857a66" stroke-width="1.0" stroke-opacity="0.88"/>
<line x1="412.20" y1="279.06" x2="439.50" y2="279.06" stroke="#857a66" stroke-width="1.0" stroke-opacity="0.88"/>
<line x1="412.20" y1="285.68" x2="439.50" y2="285.68" stroke="#857a66" stroke-width="1.0" stroke-opacity="0.88"/>
<line x1="412.20" y1="292.30" x2="439.50" y2="292.30" stroke="#857a66" stroke-width="1.0" stroke-opacity="0.88"/>
<line x1="412.20" y1="298.92" x2="439.50" y2="298.92" stroke="#857a66" stroke-width="1.0" stroke-opacity="0.88"/>
<line x1="412.20" y1="305.54" x2="439.50" y2="305.54" stroke="#857a66" stroke-width="1.0" stroke-opacity="0.88"/>
<line x1="412.20" y1="312.16" x2="439.50" y2="312.16" stroke="#857a66" stroke-width="1.0" stroke-opacity="0.88"/>
<line x1="412.20" y1="318.78" x2="439.50" y2="318.78" stroke="#857a66" stroke-width="1.0" stroke-opacity="0.88"/>
<line x1="412.20" y1="325.40" x2="439.50" y2="325.40" stroke="#857a66" stroke-width="1.0" stroke-opacity="0.88"/>
<line x1="412.20" y1="332.02" x2="439.50" y2="332.02" stroke="#857a66" stroke-width="1.0" stroke-opacity="0.88"/>
<line x1="412.20" y1="338.64" x2="439.50" y2="338.64" stroke="#857a66" stroke-width="1.0" stroke-opacity="0.88"/>
<line x1="412.20" y1="345.26" x2="439.50" y2="345.26" stroke="#857a66" stroke-width="1.0" stroke-opacity="0.88"/>
<line x1="412.20" y1="351.88" x2="439.50" y2="351.88" stroke="#857a66" stroke-width="1.0" stroke-opacity="0.88"/>
<rect x="412.20" y="27.50" width="27.30" height="331.00" fill="none" stroke="#555" stroke-width="0.85"/>
<text x="441.50" y="32.21" font-size="5.30" fill="#1a1a1a" stroke="#1a1a1a" stroke-width="0.14">Cd180</text>
<text x="441.50" y="38.83" font-size="5.30" fill="#449a7a" stroke="#449a7a" stroke-width="0.14">Afap1</text>
<text x="441.50" y="45.45" font-size="5.30" fill="#1a1a1a" stroke="#1a1a1a" stroke-width="0.14">Clec5a</text>
<text x="441.50" y="52.07" font-size="5.30" fill="#1a1a1a" stroke="#1a1a1a" stroke-width="0.14">Fgl2</text>
<text x="441.50" y="58.69" font-size="5.30" fill="#d9a064" stroke="#d9a064" stroke-width="0.14">Clec12a</text>
<text x="441.50" y="65.31" font-size="5.30" fill="#d9a064" stroke="#d9a064" stroke-width="0.14">C3</text>
<text x="441.50" y="71.93" font-size="5.30" fill="#1a1a1a" stroke="#1a1a1a" stroke-width="0.14">Siglec5</text>
<text x="441.50" y="78.55" font-size="5.30" fill="#d9a064" stroke="#d9a064" stroke-width="0.14">Slc22a15</text>
<text x="441.50" y="85.17" font-size="5.30" fill="#d9a064" stroke="#d9a064" stroke-width="0.14">Ppap2c</text>
<text x="441.50" y="91.79" font-size="5.30" fill="#1a1a1a" stroke="#1a1a1a" stroke-width="0.14">S100a8</text>
<text x="441.50" y="98.41" font-size="5.30" fill="#1a1a1a" stroke="#1a1a1a" stroke-width="0.14">1100001G20Rik</text>
<text x="441.50" y="105.03" font-size="5.30" fill="#1a1a1a" stroke="#1a1a1a" stroke-width="0.14">Mrgpra2b</text>
<text x="441.50" y="111.65" font-size="5.30" fill="#449a7a" stroke="#449a7a" stroke-width="0.14">Eepd1</text>
<text x="441.50" y="118.27" font-size="5.30" fill="#d9a064" stroke="#d9a064" stroke-width="0.14">Sgpp1</text>
<text x="441.50" y="124.89" font-size="5.30" fill="#d9a064" stroke="#d9a064" stroke-width="0.14">Ckap4</text>
<text x="441.50" y="131.51" font-size="5.30" fill="#d9a064" stroke="#d9a064" stroke-width="0.14">Tmed3</text>
<text x="441.50" y="138.13" font-size="5.30" fill="#1a1a1a" stroke="#1a1a1a" stroke-width="0.14">Celpe</text>
<text x="441.50" y="144.75" font-size="5.30" fill="#449a7a" stroke="#449a7a" stroke-width="0.14">Serpinf1</text>
<text x="441.50" y="151.37" font-size="5.30" fill="#d9a064" stroke="#d9a064" stroke-width="0.14">Tifab</text>
<text x="441.50" y="157.99" font-size="5.30" fill="#d9a064" stroke="#d9a064" stroke-width="0.14">Ms4a4c</text>
<text x="441.50" y="164.61" font-size="5.30" fill="#d9a064" stroke="#d9a064" stroke-width="0.14">Plgs1</text>
<text x="441.50" y="171.23" font-size="5.30" fill="#d9a064" stroke="#d9a064" stroke-width="0.14">Tspan2</text>
<text x="441.50" y="177.85" font-size="5.30" fill="#449a7a" stroke="#449a7a" stroke-width="0.14">Nedd9</text>
<text x="441.50" y="184.47" font-size="5.30" fill="#d9a064" stroke="#d9a064" stroke-width="0.14">Ifpip2</text>
<text x="441.50" y="191.09" font-size="5.30" fill="#1a1a1a" stroke="#1a1a1a" stroke-width="0.14">4930438A08Rik</text>
<text x="441.50" y="197.71" font-size="5.30" fill="#d9a064" stroke="#d9a064" stroke-width="0.14">Fcnb</text>
<text x="441.50" y="204.33" font-size="5.30" fill="#d9a064" stroke="#d9a064" stroke-width="0.14">Cenf5</text>
<text x="441.50" y="210.95" font-size="5.30" fill="#1a1a1a" stroke="#1a1a1a" stroke-width="0.14">Hp</text>
<text x="441.50" y="217.57" font-size="5.30" fill="#449a7a" stroke="#449a7a" stroke-width="0.14">Tnfrsf1b</text>
<text x="441.50" y="224.19" font-size="5.30" fill="#449a7a" stroke="#449a7a" stroke-width="0.14">Pkcb</text>
<text x="441.50" y="230.81" font-size="5.30" fill="#d9a064" stroke="#d9a064" stroke-width="0.14">S100a11</text>
<text x="441.50" y="237.43" font-size="5.30" fill="#d9a064" stroke="#d9a064" stroke-width="0.14">Ncf1</text>
<text x="441.50" y="244.05" font-size="5.30" fill="#d9a064" stroke="#d9a064" stroke-width="0.14">Pyhin1</text>
<text x="441.50" y="250.67" font-size="5.30" fill="#d9a064" stroke="#d9a064" stroke-width="0.14">Pyg1p1</text>
<text x="441.50" y="257.29" font-size="5.30" fill="#1a1a1a" stroke="#1a1a1a" stroke-width="0.14">F630028O10Rik</text>
<text x="441.50" y="263.91" font-size="5.30" fill="#1a1a1a" stroke="#1a1a1a" stroke-width="0.14">Plib2</text>
<text x="441.50" y="270.53" font-size="5.30" fill="#449a7a" stroke="#449a7a" stroke-width="0.14">Gpc1</text>
<text x="441.50" y="277.15" font-size="5.30" fill="#d9a064" stroke="#d9a064" stroke-width="0.14">Lmbr1</text>
<text x="441.50" y="283.77" font-size="5.30" fill="#d9a064" stroke="#d9a064" stroke-width="0.14">Tmbd1</text>
<text x="441.50" y="290.39" font-size="5.30" fill="#d9a064" stroke="#d9a064" stroke-width="0.14">Plac8</text>
<text x="441.50" y="297.01" font-size="5.30" fill="#1a1a1a" stroke="#1a1a1a" stroke-width="0.14">Tacstd2</text>
<text x="441.50" y="303.63" font-size="5.30" fill="#1a1a1a" stroke="#1a1a1a" stroke-width="0.14">Rp23–458B6.6</text>
<text x="441.50" y="310.25" font-size="5.30" fill="#1a1a1a" stroke="#1a1a1a" stroke-width="0.14">Gm14636</text>
<text x="441.50" y="316.87" font-size="5.30" fill="#1a1a1a" stroke="#1a1a1a" stroke-width="0.14">Klbt1</text>
<text x="441.50" y="323.49" font-size="5.30" fill="#d9a064" stroke="#d9a064" stroke-width="0.14">Ly6c1</text>
<text x="441.50" y="330.11" font-size="5.30" fill="#d9a064" stroke="#d9a064" stroke-width="0.14">Pik3r2a</text>
<text x="441.50" y="336.73" font-size="5.30" fill="#449a7a" stroke="#449a7a" stroke-width="0.14">Fam101b</text>
<text x="441.50" y="343.35" font-size="5.30" fill="#d9a064" stroke="#d9a064" stroke-width="0.14">Tnni18</text>
<text x="441.50" y="349.97" font-size="5.30" fill="#d9a064" stroke="#d9a064" stroke-width="0.14">B4galt4</text>
<text x="441.50" y="356.59" font-size="5.30" fill="#d9a064" stroke="#d9a064" stroke-width="0.14">Sorl1</text>
<rect x="298.7" y="56.3" width="9.3" height="129.3" fill="url(#gup)"/>
<rect x="486.8" y="56.3" width="9.4" height="129.3" fill="url(#gdn)"/>
<text x="293.30" y="50.70" font-size="6.6" font-weight="bold" fill="#111">log<tspan font-size="4.2" dy="1.6">2</tspan><tspan dy="-1.6">FC</tspan></text>
<text x="480.50" y="50.70" font-size="6.6" font-weight="bold" fill="#111">log<tspan font-size="4.2" dy="1.6">2</tspan><tspan dy="-1.6">FC</tspan></text>
<text x="310.30" y="73.60" font-size="6.40" fill="#111" stroke="#111" stroke-width="0.22">9.5</text>
<text x="310.30" y="97.00" font-size="6.40" fill="#111" stroke="#111" stroke-width="0.22">9</text>
<text x="310.30" y="121.30" font-size="6.40" fill="#111" stroke="#111" stroke-width="0.22">8.5</text>
<text x="310.30" y="144.70" font-size="6.40" fill="#111" stroke="#111" stroke-width="0.22">8</text>
<text x="310.30" y="168.30" font-size="6.40" fill="#111" stroke="#111" stroke-width="0.22">7.5</text>
<text x="498.80" y="73.60" font-size="6.40" fill="#111" stroke="#111" stroke-width="0.22">−9.8</text>
<text x="498.80" y="89.90" font-size="6.40" fill="#111" stroke="#111" stroke-width="0.22">−9.6</text>
<text x="498.80" y="107.50" font-size="6.40" fill="#111" stroke="#111" stroke-width="0.22">−9.4</text>
<text x="498.80" y="125.40" font-size="6.40" fill="#111" stroke="#111" stroke-width="0.22">−9.2</text>
<text x="498.80" y="142.60" font-size="6.40" fill="#111" stroke="#111" stroke-width="0.22">−9</text>
<text x="498.80" y="159.30" font-size="6.40" fill="#111" stroke="#111" stroke-width="0.22">−8.8</text>
<text x="498.80" y="176.40" font-size="6.40" fill="#111" stroke="#111" stroke-width="0.22">−8.6</text>
<line x1="46.20" y1="381.30" x2="160.20" y2="381.30" stroke="#111" stroke-width="1.0"/>
<path d="M43.20 381.30 L47.70 379.30 L47.70 383.30 Z" fill="#111"/>
<path d="M163.20 381.30 L158.70 379.30 L158.70 383.30 Z" fill="#111"/>
<text x="103.40" y="378.10" font-size="6.30" fill="#111" text-anchor="middle" stroke="#111" stroke-width="0.22">15kb</text>
<text x="45.30" y="391.10" font-size="6.50" fill="#111" stroke="#111" stroke-width="0.22">chrX:108,009,269-108,024,644</text>
<rect x="44.70" y="393.40" width="118.30" height="54.60" fill="#fff" stroke="#2a2a2a" stroke-width="1.1"/>
<line x1="45.20" y1="420.50" x2="162.50" y2="420.50" stroke="#a8121e" stroke-width="0.60" stroke-opacity="0.18"/>
<path d="M51.50 420.50v-0.27M52.10 420.50v-1.17M53.30 420.50v-1.56M58.10 420.50v-0.51M67.70 420.50v-1.07M71.30 420.50v-0.15M74.30 420.50v-0.80M76.10 420.50v-0.31M77.90 420.50v-0.20M79.70 420.50v-0.67M82.10 420.50v-0.83M82.70 420.50v-0.44M89.30 420.50v-1.57M99.50 420.50v-1.39M110.90 420.50v-0.98M111.50 420.50v-0.17M115.70 420.50v-0.22M118.70 420.50v-0.35M122.90 420.50v-1.39M124.70 420.50v-0.81M127.70 420.50v-0.65M139.10 420.50v-0.82M144.50 420.50v-1.04M145.10 420.50v-0.75M149.90 420.50v-0.26M151.70 420.50v-1.38M160.10 420.50v-0.56" stroke="#a8121e" stroke-width="0.55" fill="none"/>
<path d="M147.75 420.50 L148.80 401.06 L149.85 420.50 Z" fill="#a8121e" fill-opacity="0.16"/>
<path d="M148.15 420.50 L148.65 396.20 L148.95 396.20 L149.45 420.50 Z" fill="#a8121e" fill-opacity="1.00"/>
<path d="M146.86 420.50 L147.70 415.70 L148.54 420.50 Z" fill="#a8121e" fill-opacity="0.16"/>
<path d="M147.10 420.50 L147.55 414.50 L147.85 414.50 L148.30 420.50 Z" fill="#a8121e" fill-opacity="1.00"/>
<path d="M149.16 420.50 L150.00 416.50 L150.84 420.50 Z" fill="#a8121e" fill-opacity="0.16"/>
<path d="M149.40 420.50 L149.85 415.50 L150.15 415.50 L150.60 420.50 Z" fill="#a8121e" fill-opacity="1.00"/>
<path d="M145.96 420.50 L146.80 418.74 L147.64 420.50 Z" fill="#a8121e" fill-opacity="0.16"/>
<path d="M146.20 420.50 L146.65 418.30 L146.95 418.30 L147.40 420.50 Z" fill="#a8121e" fill-opacity="1.00"/>
<path d="M150.36 420.50 L151.20 418.90 L152.04 420.50 Z" fill="#a8121e" fill-opacity="0.16"/>
<path d="M150.60 420.50 L151.05 418.50 L151.35 418.50 L151.80 420.50 Z" fill="#a8121e" fill-opacity="1.00"/>
<path d="M46.80 420.50 L47.50 419.22 L48.20 420.50 Z" fill="#a8121e" fill-opacity="0.16"/>
<path d="M47.00 420.50 L47.35 418.90 L47.65 418.90 L48.00 420.50 Z" fill="#a8121e" fill-opacity="1.00"/>
<path d="M48.80 420.50 L49.50 419.54 L50.20 420.50 Z" fill="#a8121e" fill-opacity="0.16"/>
<path d="M49.00 420.50 L49.35 419.30 L49.65 419.30 L50.00 420.50 Z" fill="#a8121e" fill-opacity="1.00"/>
<path d="M50.66 420.50 L51.50 418.90 L52.34 420.50 Z" fill="#a8121e" fill-opacity="0.16"/>
<path d="M50.90 420.50 L51.35 418.50 L51.65 418.50 L52.10 420.50 Z" fill="#a8121e" fill-opacity="1.00"/>
<path d="M52.16 420.50 L53.00 419.06 L53.84 420.50 Z" fill="#a8121e" fill-opacity="0.16"/>
<path d="M52.40 420.50 L52.85 418.70 L53.15 418.70 L53.60 420.50 Z" fill="#a8121e" fill-opacity="1.00"/>
<path d="M53.80 420.50 L54.50 419.30 L55.20 420.50 Z" fill="#a8121e" fill-opacity="0.16"/>
<path d="M54.00 420.50 L54.35 419.00 L54.65 419.00 L55.00 420.50 Z" fill="#a8121e" fill-opacity="1.00"/>
<path d="M55.30 420.50 L56.00 419.70 L56.70 420.50 Z" fill="#a8121e" fill-opacity="0.16"/>
<path d="M55.50 420.50 L55.85 419.50 L56.15 419.50 L56.50 420.50 Z" fill="#a8121e" fill-opacity="1.00"/>
<path d="M62.80 420.50 L63.50 419.54 L64.20 420.50 Z" fill="#a8121e" fill-opacity="0.16"/>
<path d="M63.00 420.50 L63.35 419.30 L63.65 419.30 L64.00 420.50 Z" fill="#a8121e" fill-opacity="1.00"/>
<path d="M64.80 420.50 L65.50 419.22 L66.20 420.50 Z" fill="#a8121e" fill-opacity="0.16"/>
<path d="M65.00 420.50 L65.35 418.90 L65.65 418.90 L66.00 420.50 Z" fill="#a8121e" fill-opacity="1.00"/>
<path d="M66.80 420.50 L67.50 419.46 L68.20 420.50 Z" fill="#a8121e" fill-opacity="0.16"/>
<path d="M67.00 420.50 L67.35 419.20 L67.65 419.20 L68.00 420.50 Z" fill="#a8121e" fill-opacity="1.00"/>
<path d="M68.80 420.50 L69.50 419.62 L70.20 420.50 Z" fill="#a8121e" fill-opacity="0.16"/>
<path d="M69.00 420.50 L69.35 419.40 L69.65 419.40 L70.00 420.50 Z" fill="#a8121e" fill-opacity="1.00"/>
<path d="M70.30 420.50 L71.00 419.46 L71.70 420.50 Z" fill="#a8121e" fill-opacity="0.16"/>
<path d="M70.50 420.50 L70.85 419.20 L71.15 419.20 L71.50 420.50 Z" fill="#a8121e" fill-opacity="1.00"/>
<path d="M78.80 420.50 L79.50 419.70 L80.20 420.50 Z" fill="#a8121e" fill-opacity="0.16"/>
<path d="M79.00 420.50 L79.35 419.50 L79.65 419.50 L80.00 420.50 Z" fill="#a8121e" fill-opacity="1.00"/>
<path d="M83.80 420.50 L84.50 419.70 L85.20 420.50 Z" fill="#a8121e" fill-opacity="0.16"/>
<path d="M84.00 420.50 L84.35 419.50 L84.65 419.50 L85.00 420.50 Z" fill="#a8121e" fill-opacity="1.00"/>
<path d="M99.80 420.50 L100.50 419.70 L101.20 420.50 Z" fill="#a8121e" fill-opacity="0.16"/>
<path d="M100.00 420.50 L100.35 419.50 L100.65 419.50 L101.00 420.50 Z" fill="#a8121e" fill-opacity="1.00"/>
<path d="M111.30 420.50 L112.00 419.70 L112.70 420.50 Z" fill="#a8121e" fill-opacity="0.16"/>
<path d="M111.50 420.50 L111.85 419.50 L112.15 419.50 L112.50 420.50 Z" fill="#a8121e" fill-opacity="1.00"/>
<path d="M120.80 420.50 L121.50 419.70 L122.20 420.50 Z" fill="#a8121e" fill-opacity="0.16"/>
<path d="M121.00 420.50 L121.35 419.50 L121.65 419.50 L122.00 420.50 Z" fill="#a8121e" fill-opacity="1.00"/>
<path d="M126.30 420.50 L127.00 419.70 L127.70 420.50 Z" fill="#a8121e" fill-opacity="0.16"/>
<path d="M126.50 420.50 L126.85 419.50 L127.15 419.50 L127.50 420.50 Z" fill="#a8121e" fill-opacity="1.00"/>
<path d="M156.80 420.50 L157.50 419.70 L158.20 420.50 Z" fill="#a8121e" fill-opacity="0.16"/>
<path d="M157.00 420.50 L157.35 419.50 L157.65 419.50 L158.00 420.50 Z" fill="#a8121e" fill-opacity="1.00"/>
<line x1="45.20" y1="447.20" x2="162.50" y2="447.20" stroke="#2a2aa8" stroke-width="0.60" stroke-opacity="0.50"/>
<path d="M45.50 447.20v-0.96M47.30 447.20v-0.26M50.90 447.20v-0.53M51.50 447.20v-1.55M52.10 447.20v-1.33M52.70 447.20v-1.02M53.30 447.20v-0.46M57.50 447.20v-0.50M58.10 447.20v-0.31M59.30 447.20v-1.05M61.10 447.20v-0.49M62.30 447.20v-0.43M62.90 447.20v-1.11M65.30 447.20v-0.39M67.10 447.20v-0.21M67.70 447.20v-0.66M70.10 447.20v-0.67M70.70 447.20v-0.50M71.30 447.20v-1.22M71.90 447.20v-0.73M72.50 447.20v-1.04M73.10 447.20v-0.26M73.70 447.20v-0.91M74.30 447.20v-0.56M74.90 447.20v-0.27M75.50 447.20v-1.69M76.10 447.20v-1.68M76.70 447.20v-1.60M79.10 447.20v-0.25M80.30 447.20v-0.21M83.90 447.20v-1.26M85.70 447.20v-0.69M86.30 447.20v-0.89M86.90 447.20v-1.66M88.10 447.20v-0.28M89.30 447.20v-1.65M89.90 447.20v-1.05M91.10 447.20v-0.27M91.70 447.20v-1.02M92.90 447.20v-1.50M93.50 447.20v-0.21M94.10 447.20v-1.74M97.70 447.20v-0.81M100.10 447.20v-0.40M101.90 447.20v-1.08M104.90 447.20v-1.26M106.10 447.20v-0.31M107.90 447.20v-0.88M108.50 447.20v-0.70M109.70 447.20v-0.22M110.30 447.20v-0.33M112.10 447.20v-1.04M115.10 447.20v-0.53M115.70 447.20v-0.98M116.30 447.20v-0.21M116.90 447.20v-1.65M117.50 447.20v-0.39M118.10 447.20v-0.16M118.70 447.20v-0.19M119.90 447.20v-1.05M120.50 447.20v-0.57M122.30 447.20v-0.56M124.10 447.20v-0.71M125.30 447.20v-0.99M128.30 447.20v-1.13M128.90 447.20v-0.64M129.50 447.20v-0.31M130.10 447.20v-0.19M130.70 447.20v-0.23M131.30 447.20v-1.30M131.90 447.20v-1.63M133.10 447.20v-1.47M137.30 447.20v-0.87M137.90 447.20v-0.47M138.50 447.20v-0.43M139.10 447.20v-1.31M139.70 447.20v-0.17M140.30 447.20v-1.72M143.30 447.20v-1.13M145.70 447.20v-1.49M146.30 447.20v-0.31M147.50 447.20v-1.09M148.70 447.20v-0.31M150.50 447.20v-1.02M151.10 447.20v-0.54M151.70 447.20v-0.95M152.90 447.20v-0.91M153.50 447.20v-0.91M154.10 447.20v-0.48M154.70 447.20v-1.09M155.30 447.20v-1.60M155.90 447.20v-1.42M158.30 447.20v-0.47" stroke="#2a2aa8" stroke-width="0.55" fill="none"/>
<text x="41.50" y="396.80" font-size="6.30" fill="#111" text-anchor="end" stroke="#111" stroke-width="0.22">22</text>
<text x="41.50" y="426.60" font-size="6.30" fill="#111" text-anchor="end" stroke="#111" stroke-width="0.22">22</text>
<line x1="181.30" y1="381.30" x2="295.60" y2="381.30" stroke="#111" stroke-width="1.0"/>
<path d="M178.30 381.30 L182.80 379.30 L182.80 383.30 Z" fill="#111"/>
<path d="M298.60 381.30 L294.10 379.30 L294.10 383.30 Z" fill="#111"/>
<text x="239.30" y="378.10" font-size="6.30" fill="#111" text-anchor="middle" stroke="#111" stroke-width="0.22">54kb</text>
<text x="180.40" y="391.10" font-size="6.50" fill="#111" stroke="#111" stroke-width="0.22">chr12:52,674,924-52,729,986</text>
<rect x="179.80" y="393.10" width="118.60" height="55.90" fill="#fff" stroke="#2a2a2a" stroke-width="1.1"/>
<line x1="180.30" y1="420.60" x2="297.90" y2="420.60" stroke="#a8121e" stroke-width="0.70" stroke-opacity="0.60"/>
<path d="M180.60 420.60v-0.74M182.40 420.60v-0.92M185.40 420.60v-0.58M186.00 420.60v-0.92M187.20 420.60v-1.30M189.60 420.60v-0.25M190.80 420.60v-1.21M192.60 420.60v-1.16M194.40 420.60v-0.44M196.20 420.60v-0.90M196.80 420.60v-1.24M200.40 420.60v-0.43M201.60 420.60v-1.15M203.40 420.60v-0.39M204.00 420.60v-1.29M205.20 420.60v-0.79M208.80 420.60v-0.62M211.20 420.60v-1.16M211.80 420.60v-0.60M213.00 420.60v-0.95M214.20 420.60v-0.73M220.20 420.60v-0.16M224.40 420.60v-0.17M225.00 420.60v-0.35M226.20 420.60v-1.11M228.60 420.60v-1.22M235.20 420.60v-0.51M235.80 420.60v-0.88M236.40 420.60v-0.74M237.60 420.60v-0.59M240.00 420.60v-0.34M243.60 420.60v-1.05M244.80 420.60v-0.51M245.40 420.60v-0.45M246.60 420.60v-0.30M248.40 420.60v-0.78M250.80 420.60v-0.41M251.40 420.60v-0.87M252.00 420.60v-0.78M252.60 420.60v-0.76M253.80 420.60v-0.22M255.00 420.60v-0.46M256.80 420.60v-0.61M259.20 420.60v-0.76M261.00 420.60v-0.96M262.20 420.60v-0.23M264.00 420.60v-0.96M266.40 420.60v-0.67M268.20 420.60v-0.33M270.00 420.60v-0.77M272.40 420.60v-0.31M274.80 420.60v-0.43M281.40 420.60v-1.14M282.00 420.60v-0.63M284.40 420.60v-0.23M285.00 420.60v-0.32M285.60 420.60v-0.53M286.20 420.60v-0.22M288.60 420.60v-1.22M289.80 420.60v-0.25M291.60 420.60v-1.21M292.20 420.60v-0.17M293.40 420.60v-0.73M294.00 420.60v-0.60M294.60 420.60v-0.30" stroke="#a8121e" stroke-width="0.55" fill="none"/>
<path d="M188.92 420.60 L189.90 402.20 L190.88 420.60 Z" fill="#a8121e" fill-opacity="0.16"/>
<path d="M189.25 420.60 L189.75 397.60 L190.05 397.60 L190.55 420.60 Z" fill="#a8121e" fill-opacity="1.00"/>
<path d="M192.76 420.60 L193.60 414.60 L194.44 420.60 Z" fill="#a8121e" fill-opacity="0.16"/>
<path d="M193.00 420.60 L193.45 413.10 L193.75 413.10 L194.20 420.60 Z" fill="#a8121e" fill-opacity="1.00"/>
<path d="M187.32 420.60 L189.00 416.60 L190.68 420.60 Z" fill="#a8121e" fill-opacity="0.16"/>
<path d="M188.35 420.60 L188.85 415.60 L189.15 415.60 L189.65 420.60 Z" fill="#a8121e" fill-opacity="1.00"/>
<path d="M189.82 420.60 L191.50 418.60 L193.18 420.60 Z" fill="#a8121e" fill-opacity="0.16"/>
<path d="M190.85 420.60 L191.35 418.10 L191.65 418.10 L192.15 420.60 Z" fill="#a8121e" fill-opacity="1.00"/>
<path d="M286.42 420.60 L287.40 417.00 L288.38 420.60 Z" fill="#a8121e" fill-opacity="0.16"/>
<path d="M286.75 420.60 L287.25 416.10 L287.55 416.10 L288.05 420.60 Z" fill="#a8121e" fill-opacity="1.00"/>
<path d="M219.40 420.60 L221.50 419.16 L223.60 420.60 Z" fill="#a8121e" fill-opacity="0.16"/>
<path d="M220.85 420.60 L221.35 418.80 L221.65 418.80 L222.15 420.60 Z" fill="#a8121e" fill-opacity="1.00"/>
<line x1="180.30" y1="448.30" x2="297.90" y2="448.30" stroke="#2a2aa8" stroke-width="0.70" stroke-opacity="0.50"/>
<path d="M183.60 448.30v-1.51M184.20 448.30v-1.69M184.80 448.30v-0.84M187.80 448.30v-1.49M194.40 448.30v-1.68M195.00 448.30v-1.24M196.80 448.30v-1.35M199.80 448.30v-0.67M200.40 448.30v-0.97M201.60 448.30v-0.41M202.80 448.30v-0.83M203.40 448.30v-0.51M205.80 448.30v-0.51M206.40 448.30v-1.61M207.60 448.30v-0.46M208.20 448.30v-1.53M208.80 448.30v-0.73M209.40 448.30v-0.34M210.00 448.30v-0.15M210.60 448.30v-0.71M212.40 448.30v-1.04M213.00 448.30v-0.47M214.80 448.30v-1.40M215.40 448.30v-0.68M217.80 448.30v-1.12M219.00 448.30v-1.25M221.40 448.30v-0.64M223.80 448.30v-0.25M224.40 448.30v-1.71M225.60 448.30v-0.23M226.80 448.30v-0.26M227.40 448.30v-0.58M228.00 448.30v-0.36M230.40 448.30v-0.42M231.60 448.30v-0.16M232.20 448.30v-0.43M234.00 448.30v-0.22M234.60 448.30v-0.25M235.20 448.30v-0.98M235.80 448.30v-1.51M237.00 448.30v-0.63M238.20 448.30v-0.61M238.80 448.30v-1.21M239.40 448.30v-0.90M241.20 448.30v-0.70M241.80 448.30v-0.36M243.60 448.30v-0.42M244.80 448.30v-1.29M246.60 448.30v-1.41M249.00 448.30v-1.05M250.80 448.30v-0.47M252.60 448.30v-0.96M253.80 448.30v-0.42M254.40 448.30v-0.67M255.60 448.30v-0.75M257.40 448.30v-1.21M258.00 448.30v-1.66M261.00 448.30v-0.65M262.80 448.30v-0.88M264.00 448.30v-1.72M267.60 448.30v-0.27M270.60 448.30v-0.34M271.20 448.30v-0.59M271.80 448.30v-0.38M273.00 448.30v-0.72M276.00 448.30v-0.18M276.60 448.30v-0.21M277.80 448.30v-1.78M279.00 448.30v-0.60M280.80 448.30v-0.42M282.60 448.30v-0.90M283.20 448.30v-1.02M285.00 448.30v-0.28M286.20 448.30v-0.55M287.40 448.30v-0.58M289.20 448.30v-1.59M290.40 448.30v-0.21M292.20 448.30v-0.45M293.40 448.30v-0.47M295.80 448.30v-1.46M297.00 448.30v-0.69" stroke="#2a2aa8" stroke-width="0.55" fill="none"/>
<text x="176.60" y="401.20" font-size="6.30" fill="#111" text-anchor="end" stroke="#111" stroke-width="0.22">32</text>
<text x="176.60" y="428.90" font-size="6.30" fill="#111" text-anchor="end" stroke="#111" stroke-width="0.22">32</text>
<line x1="46.20" y1="490.30" x2="160.20" y2="490.30" stroke="#111" stroke-width="1.0"/>
<path d="M43.20 490.30 L47.70 488.30 L47.70 492.30 Z" fill="#111"/>
<path d="M163.20 490.30 L158.70 488.30 L158.70 492.30 Z" fill="#111"/>
<text x="104.00" y="487.10" font-size="6.30" fill="#111" text-anchor="middle" stroke="#111" stroke-width="0.22">24kb</text>
<text x="45.30" y="499.30" font-size="6.50" fill="#111" stroke="#111" stroke-width="0.22">chr11:110,926,515-110,950,658</text>
<rect x="44.70" y="503.30" width="118.30" height="55.70" fill="#fff" stroke="#2a2a2a" stroke-width="1.1"/>
<line x1="45.20" y1="529.50" x2="162.50" y2="529.50" stroke="#a8121e" stroke-width="0.70" stroke-opacity="0.60"/>
<path d="M46.10 529.50v-1.24M47.30 529.50v-1.45M47.90 529.50v-1.40M49.10 529.50v-0.86M49.70 529.50v-0.58M52.10 529.50v-0.19M52.70 529.50v-0.48M53.90 529.50v-0.22M55.10 529.50v-2.05M56.30 529.50v-0.20M58.10 529.50v-1.39M59.90 529.50v-1.56M61.10 529.50v-1.13M62.30 529.50v-0.43M62.90 529.50v-1.14M66.50 529.50v-0.16M67.70 529.50v-1.22M68.30 529.50v-0.19M70.70 529.50v-0.55M73.10 529.50v-0.67M74.30 529.50v-1.54M76.70 529.50v-0.19M77.30 529.50v-1.33M78.50 529.50v-0.77M79.70 529.50v-0.50M82.10 529.50v-1.36M84.50 529.50v-1.47M86.30 529.50v-0.33M87.50 529.50v-1.77M88.10 529.50v-1.06M88.70 529.50v-0.19M89.90 529.50v-0.17M90.50 529.50v-1.27M91.10 529.50v-1.75M91.70 529.50v-0.83M92.90 529.50v-1.34M94.10 529.50v-1.52M97.10 529.50v-1.73M97.70 529.50v-0.61M98.30 529.50v-0.52M98.90 529.50v-0.61M100.10 529.50v-0.26M102.50 529.50v-1.06M103.70 529.50v-0.20M104.90 529.50v-0.56M106.10 529.50v-0.19M106.70 529.50v-0.45M107.90 529.50v-1.49M108.50 529.50v-0.27M109.70 529.50v-0.78M110.90 529.50v-0.17M111.50 529.50v-0.74M112.10 529.50v-0.72M113.30 529.50v-1.45M113.90 529.50v-1.92M115.10 529.50v-1.51M115.70 529.50v-1.04M116.90 529.50v-0.40M117.50 529.50v-0.96M118.10 529.50v-0.50M118.70 529.50v-2.01M119.90 529.50v-1.75M120.50 529.50v-0.53M122.30 529.50v-0.58M123.50 529.50v-1.30M124.10 529.50v-2.05M125.30 529.50v-2.14M126.50 529.50v-0.27M127.10 529.50v-2.19M128.90 529.50v-0.87M130.10 529.50v-1.58M130.70 529.50v-0.73M131.30 529.50v-1.25M133.70 529.50v-0.15M134.30 529.50v-1.75M134.90 529.50v-0.94M136.10 529.50v-0.53M136.70 529.50v-2.02M138.50 529.50v-1.37M139.10 529.50v-0.56M142.70 529.50v-0.91M146.30 529.50v-0.52M146.90 529.50v-0.44M148.10 529.50v-0.39M148.70 529.50v-0.64M149.90 529.50v-0.18M150.50 529.50v-0.29M151.70 529.50v-1.44M152.30 529.50v-1.53M152.90 529.50v-1.51M154.10 529.50v-1.57M154.70 529.50v-0.75M155.30 529.50v-1.26M157.10 529.50v-1.71M157.70 529.50v-1.50M158.30 529.50v-1.31" stroke="#a8121e" stroke-width="0.55" fill="none"/>
<path d="M151.00 529.50 L152.40 517.18 L153.80 529.50 Z" fill="#a8121e" fill-opacity="0.16"/>
<path d="M151.75 529.50 L152.25 514.10 L152.55 514.10 L153.05 529.50 Z" fill="#a8121e" fill-opacity="1.00"/>
<path d="M125.64 529.50 L126.90 523.74 L128.16 529.50 Z" fill="#a8121e" fill-opacity="0.16"/>
<path d="M126.25 529.50 L126.75 522.30 L127.05 522.30 L127.55 529.50 Z" fill="#a8121e" fill-opacity="1.00"/>
<path d="M127.38 529.50 L128.50 526.30 L129.62 529.50 Z" fill="#a8121e" fill-opacity="0.16"/>
<path d="M127.85 529.50 L128.35 525.50 L128.65 525.50 L129.15 529.50 Z" fill="#a8121e" fill-opacity="1.00"/>
<path d="M130.84 529.50 L132.10 523.42 L133.36 529.50 Z" fill="#a8121e" fill-opacity="0.16"/>
<path d="M131.45 529.50 L131.95 521.90 L132.25 521.90 L132.75 529.50 Z" fill="#a8121e" fill-opacity="1.00"/>
<path d="M132.48 529.50 L133.60 525.50 L134.72 529.50 Z" fill="#a8121e" fill-opacity="0.16"/>
<path d="M132.95 529.50 L133.45 524.50 L133.75 524.50 L134.25 529.50 Z" fill="#a8121e" fill-opacity="1.00"/>
<path d="M124.38 529.50 L125.50 527.50 L126.62 529.50 Z" fill="#a8121e" fill-opacity="0.16"/>
<path d="M124.85 529.50 L125.35 527.00 L125.65 527.00 L126.15 529.50 Z" fill="#a8121e" fill-opacity="1.00"/>
<path d="M129.18 529.50 L130.30 527.26 L131.42 529.50 Z" fill="#a8121e" fill-opacity="0.16"/>
<path d="M129.65 529.50 L130.15 526.70 L130.45 526.70 L130.95 529.50 Z" fill="#a8121e" fill-opacity="1.00"/>
<path d="M149.48 529.50 L150.60 527.10 L151.72 529.50 Z" fill="#a8121e" fill-opacity="0.16"/>
<path d="M149.95 529.50 L150.45 526.50 L150.75 526.50 L151.25 529.50 Z" fill="#a8121e" fill-opacity="1.00"/>
<path d="M152.88 529.50 L154.00 527.50 L155.12 529.50 Z" fill="#a8121e" fill-opacity="0.16"/>
<path d="M153.35 529.50 L153.85 527.00 L154.15 527.00 L154.65 529.50 Z" fill="#a8121e" fill-opacity="1.00"/>
<path d="M47.82 529.50 L49.50 526.70 L51.18 529.50 Z" fill="#a8121e" fill-opacity="0.16"/>
<path d="M48.85 529.50 L49.35 526.00 L49.65 526.00 L50.15 529.50 Z" fill="#a8121e" fill-opacity="1.00"/>
<path d="M59.10 529.50 L60.50 527.50 L61.90 529.50 Z" fill="#a8121e" fill-opacity="0.16"/>
<path d="M59.85 529.50 L60.35 527.00 L60.65 527.00 L61.15 529.50 Z" fill="#a8121e" fill-opacity="1.00"/>
<path d="M73.60 529.50 L75.00 527.50 L76.40 529.50 Z" fill="#a8121e" fill-opacity="0.16"/>
<path d="M74.35 529.50 L74.85 527.00 L75.15 527.00 L75.65 529.50 Z" fill="#a8121e" fill-opacity="1.00"/>
<path d="M85.60 529.50 L87.00 527.90 L88.40 529.50 Z" fill="#a8121e" fill-opacity="0.16"/>
<path d="M86.35 529.50 L86.85 527.50 L87.15 527.50 L87.65 529.50 Z" fill="#a8121e" fill-opacity="1.00"/>
<line x1="45.20" y1="558.00" x2="162.50" y2="558.00" stroke="#2a2aa8" stroke-width="1.00" stroke-opacity="0.85"/>
<path d="M45.50 558.00v-0.30M46.10 558.00v-2.56M46.70 558.00v-1.83M47.30 558.00v-1.09M47.90 558.00v-1.13M50.90 558.00v-1.87M51.50 558.00v-2.30M53.30 558.00v-2.90M53.90 558.00v-0.19M55.10 558.00v-0.63M55.70 558.00v-0.52M56.90 558.00v-2.20M57.50 558.00v-1.29M58.10 558.00v-2.03M58.70 558.00v-0.33M59.30 558.00v-0.36M59.90 558.00v-2.94M61.10 558.00v-2.20M61.70 558.00v-1.77M63.50 558.00v-0.72M64.70 558.00v-2.78M65.30 558.00v-2.79M65.90 558.00v-2.80M67.10 558.00v-1.14M67.70 558.00v-0.32M68.30 558.00v-1.84M68.90 558.00v-2.35M69.50 558.00v-1.41M70.10 558.00v-1.56M70.70 558.00v-0.37M72.50 558.00v-2.86M73.10 558.00v-0.53M75.50 558.00v-0.20M76.70 558.00v-2.91M77.30 558.00v-2.07M77.90 558.00v-1.01M79.10 558.00v-2.23M79.70 558.00v-2.85M81.50 558.00v-1.66M82.10 558.00v-0.70M82.70 558.00v-0.54M84.50 558.00v-0.88M85.10 558.00v-2.58M85.70 558.00v-2.27M86.30 558.00v-1.22M88.10 558.00v-2.87M89.90 558.00v-2.97M91.10 558.00v-2.95M92.30 558.00v-0.54M92.90 558.00v-1.09M93.50 558.00v-2.93M94.10 558.00v-0.66M94.70 558.00v-1.09M95.30 558.00v-0.23M95.90 558.00v-1.85M97.10 558.00v-0.98M97.70 558.00v-1.12M98.30 558.00v-0.43M98.90 558.00v-0.26M99.50 558.00v-0.73M100.10 558.00v-2.34M100.70 558.00v-2.84M101.30 558.00v-0.42M101.90 558.00v-1.30M102.50 558.00v-1.17M103.10 558.00v-1.16M103.70 558.00v-0.89M104.30 558.00v-2.66M104.90 558.00v-2.98M106.10 558.00v-0.17M106.70 558.00v-0.82M107.30 558.00v-2.79M107.90 558.00v-1.42M109.70 558.00v-1.14M110.30 558.00v-0.97M110.90 558.00v-2.53M111.50 558.00v-0.74M113.30 558.00v-2.59M114.50 558.00v-1.40M115.10 558.00v-1.89M115.70 558.00v-1.40M116.30 558.00v-1.31M116.90 558.00v-1.21M118.10 558.00v-2.31M118.70 558.00v-1.65M119.30 558.00v-1.69M121.10 558.00v-0.62M121.70 558.00v-1.66M122.30 558.00v-1.49M123.50 558.00v-2.36M124.10 558.00v-0.77M125.30 558.00v-2.99M125.90 558.00v-0.21M126.50 558.00v-0.90M127.10 558.00v-2.95M127.70 558.00v-1.52M128.30 558.00v-1.25M129.50 558.00v-2.29M130.10 558.00v-0.42M130.70 558.00v-1.94M131.90 558.00v-0.15M132.50 558.00v-1.65M133.10 558.00v-0.79M133.70 558.00v-0.16M134.30 558.00v-1.98M134.90 558.00v-0.26M135.50 558.00v-0.29M136.10 558.00v-1.90M136.70 558.00v-1.26M137.30 558.00v-1.12M137.90 558.00v-0.90M139.10 558.00v-0.78M139.70 558.00v-0.84M140.90 558.00v-2.80M141.50 558.00v-0.90M142.10 558.00v-2.76M143.90 558.00v-2.75M144.50 558.00v-0.56M145.10 558.00v-1.02M145.70 558.00v-0.42M146.90 558.00v-0.40M148.10 558.00v-0.76M149.90 558.00v-0.61M150.50 558.00v-1.65M151.10 558.00v-0.25M151.70 558.00v-0.42M152.30 558.00v-0.20M152.90 558.00v-0.34M153.50 558.00v-0.67M156.50 558.00v-0.85M157.10 558.00v-0.26M157.70 558.00v-0.81M158.90 558.00v-1.75M159.50 558.00v-1.60M160.70 558.00v-1.12M161.30 558.00v-2.83M161.90 558.00v-0.30" stroke="#2a2aa8" stroke-width="0.55" fill="none"/>
<text x="41.50" y="507.50" font-size="6.30" fill="#111" text-anchor="end" stroke="#111" stroke-width="0.22">20</text>
<text x="41.50" y="535.90" font-size="6.30" fill="#111" text-anchor="end" stroke="#111" stroke-width="0.22">20</text>
<line x1="182.70" y1="490.20" x2="296.80" y2="490.20" stroke="#111" stroke-width="1.0"/>
<path d="M179.70 490.20 L184.20 488.20 L184.20 492.20 Z" fill="#111"/>
<path d="M299.80 490.20 L295.30 488.20 L295.30 492.20 Z" fill="#111"/>
<text x="241.00" y="487.00" font-size="6.30" fill="#111" text-anchor="middle" stroke="#111" stroke-width="0.22">315kb</text>
<text x="181.80" y="499.00" font-size="6.50" fill="#111" stroke="#111" stroke-width="0.22">chr9:49,299,749-49,615,478</text>
<rect x="181.20" y="502.80" width="118.40" height="53.60" fill="#fff" stroke="#2a2a2a" stroke-width="1.1"/>
<line x1="181.70" y1="527.90" x2="299.10" y2="527.90" stroke="#a41c2c" stroke-width="1.60" stroke-opacity="1.00"/>
<path d="M183.20 527.90v-1.05M191.00 527.90v-0.64M192.20 527.90v-0.83M192.80 527.90v-0.97M195.80 527.90v-0.66M196.40 527.90v-1.05M198.20 527.90v-0.21M200.00 527.90v-1.00M201.80 527.90v-0.65M210.80 527.90v-0.96M212.60 527.90v-0.64M213.20 527.90v-1.01M229.40 527.90v-0.65M231.20 527.90v-0.23M233.00 527.90v-1.20M237.80 527.90v-0.54M240.80 527.90v-0.74M242.00 527.90v-0.44M246.20 527.90v-0.95M254.00 527.90v-0.39M254.60 527.90v-0.42M256.40 527.90v-0.90M258.20 527.90v-0.79M258.80 527.90v-0.86M260.60 527.90v-0.97M263.00 527.90v-0.64M264.20 527.90v-0.90M265.40 527.90v-0.81M267.20 527.90v-0.46M275.00 527.90v-0.29M275.60 527.90v-0.92M279.20 527.90v-0.27M281.60 527.90v-0.93M284.60 527.90v-1.03M291.20 527.90v-1.02" stroke="#a8121e" stroke-width="0.55" fill="none"/>
<path d="M194.42 527.90 L195.40 513.90 L196.38 527.90 Z" fill="#a8121e" fill-opacity="0.10"/>
<path d="M194.75 527.90 L195.25 510.40 L195.55 510.40 L196.05 527.90 Z" fill="#a8121e" fill-opacity="0.60"/>
<path d="M238.02 527.90 L239.00 512.70 L239.98 527.90 Z" fill="#a8121e" fill-opacity="0.10"/>
<path d="M238.35 527.90 L238.85 508.90 L239.15 508.90 L239.65 527.90 Z" fill="#a8121e" fill-opacity="0.60"/>
<path d="M279.82 527.90 L280.80 515.90 L281.78 527.90 Z" fill="#a8121e" fill-opacity="0.10"/>
<path d="M280.15 527.90 L280.65 512.90 L280.95 512.90 L281.45 527.90 Z" fill="#a8121e" fill-opacity="0.60"/>
<path d="M257.06 527.90 L257.90 524.30 L258.74 527.90 Z" fill="#a8121e" fill-opacity="0.10"/>
<path d="M257.30 527.90 L257.75 523.40 L258.05 523.40 L258.50 527.90 Z" fill="#a8121e" fill-opacity="0.60"/>
<path d="M268.66 527.90 L269.50 522.30 L270.34 527.90 Z" fill="#a8121e" fill-opacity="0.10"/>
<path d="M268.90 527.90 L269.35 520.90 L269.65 520.90 L270.10 527.90 Z" fill="#a8121e" fill-opacity="0.60"/>
<path d="M270.76 527.90 L271.60 523.50 L272.44 527.90 Z" fill="#a8121e" fill-opacity="0.10"/>
<path d="M271.00 527.90 L271.45 522.40 L271.75 522.40 L272.20 527.90 Z" fill="#a8121e" fill-opacity="0.60"/>
<path d="M247.06 527.90 L247.90 526.30 L248.74 527.90 Z" fill="#a8121e" fill-opacity="0.10"/>
<path d="M247.30 527.90 L247.75 525.90 L248.05 525.90 L248.50 527.90 Z" fill="#a8121e" fill-opacity="0.60"/>
<line x1="181.70" y1="555.40" x2="299.10" y2="555.40" stroke="#2a2aa8" stroke-width="2.00" stroke-opacity="0.95"/>
<path d="M183.20 555.40v-0.63M185.00 555.40v-0.27M188.60 555.40v-0.45M189.80 555.40v-0.72M192.80 555.40v-0.78M196.40 555.40v-0.41M201.80 555.40v-0.51M202.40 555.40v-0.23M205.40 555.40v-0.62M206.00 555.40v-0.23M211.40 555.40v-0.92M212.60 555.40v-0.53M213.20 555.40v-0.87M215.60 555.40v-0.45M219.20 555.40v-0.50M221.00 555.40v-0.24M224.00 555.40v-0.61M225.80 555.40v-0.51M226.40 555.40v-0.29M228.80 555.40v-0.35M229.40 555.40v-0.87M230.60 555.40v-0.51M231.80 555.40v-0.67M234.20 555.40v-0.18M234.80 555.40v-0.90M238.40 555.40v-0.34M239.00 555.40v-0.66M240.20 555.40v-0.33M241.40 555.40v-0.81M242.60 555.40v-0.40M243.80 555.40v-0.17M247.40 555.40v-0.45M248.60 555.40v-0.50M249.20 555.40v-0.86M259.40 555.40v-0.26M260.00 555.40v-0.80M265.40 555.40v-1.00M268.40 555.40v-0.34M269.00 555.40v-0.25M269.60 555.40v-0.23M270.80 555.40v-0.69M275.00 555.40v-0.16M278.00 555.40v-0.45M279.80 555.40v-0.94M283.40 555.40v-0.46M287.00 555.40v-0.61M287.60 555.40v-0.25M288.80 555.40v-0.18M290.00 555.40v-0.31M292.40 555.40v-0.90M297.80 555.40v-0.74M298.40 555.40v-0.54" stroke="#2a2aa8" stroke-width="0.55" fill="none"/>
<text x="178.00" y="507.20" font-size="6.30" fill="#111" text-anchor="end" stroke="#111" stroke-width="0.22">20</text>
<text x="178.00" y="535.50" font-size="6.30" fill="#111" text-anchor="end" stroke="#111" stroke-width="0.22">20</text>
<text x="0" y="0" font-size="8.50" fill="#111" stroke="#111" stroke-width="0.25" text-anchor="middle" transform="translate(24.85 418.70) rotate(-90) scale(0.910 1)">Counts/ million</text>
<text x="0" y="0" font-size="8.50" fill="#111" stroke="#111" stroke-width="0.25" text-anchor="middle" transform="translate(24.76 530.50) rotate(-90) scale(0.910 1)">Counts/ million</text>
<text x="24.60" y="454.40" font-size="6.20" fill="#111" stroke="#111" stroke-width="0.22">Peaks</text>
<text x="26.00" y="565.40" font-size="6.20" fill="#111" stroke="#111" stroke-width="0.22">Peaks</text>
<rect x="146.2" y="451.6" width="5.4" height="2.8" rx="0.6" fill="#c81c26"/>
<rect x="188.5" y="451.8" width="1.6" height="2.2" fill="#c81c26"/>
<rect x="191.5" y="451.8" width="1.6" height="2.2" fill="#c81c26"/>
<rect x="286.7" y="451.8" width="0.9" height="2.0" fill="#c81c26" fill-opacity="0.8"/>
<rect x="126.2" y="560.6" width="2.6" height="2.6" fill="#c81c26"/>
<rect x="131.1" y="560.6" width="2.6" height="2.6" fill="#c81c26"/>
<rect x="151.0" y="560.6" width="2.6" height="2.6" fill="#c81c26"/>
<rect x="188.1" y="560.8" width="0.6" height="2.4" fill="#a07070"/>
<rect x="195.3" y="560.8" width="0.6" height="2.4" fill="#a07070"/>
<rect x="238.0" y="560.8" width="0.7" height="2.4" fill="#907070"/>
<rect x="256.6" y="560.8" width="0.6" height="2.4" fill="#a08080"/>
<rect x="268.1" y="560.8" width="0.6" height="2.4" fill="#a07070"/>
<rect x="270.1" y="560.8" width="0.6" height="2.4" fill="#a07070"/>
<rect x="279.3" y="560.8" width="1.2" height="2.4" fill="#b02030"/>
<rect x="293.0" y="560.8" width="0.6" height="2.4" fill="#a08080"/>
<rect x="48.8" y="457.2" width="8.5" height="3.4" fill="#0a0a0a"/>
<line x1="49.0" y1="460.6" x2="49.0" y2="464.8" stroke="#aaa" stroke-width="0.6"/>
<path d="M49.2 463.2 L53.6 464.6 L49.2 466.0 Z" fill="#111"/>
<text x="45.20" y="472.90" font-size="6.20" fill="#111" stroke="#111" stroke-width="0.22">Pou3f4</text>
<line x1="221.2" y1="459.0" x2="247.5" y2="459.0" stroke="#8a8a8a" stroke-width="0.7"/>
<rect x="221.0" y="457.30" width="0.8" height="3.4" fill="#111"/>
<rect x="224.3" y="457.70" width="0.7" height="2.6" fill="#111"/>
<rect x="226.8" y="457.70" width="0.7" height="2.6" fill="#111"/>
<rect x="230.2" y="457.70" width="0.7" height="2.6" fill="#111"/>
<rect x="232.8" y="457.70" width="0.7" height="2.6" fill="#111"/>
<rect x="240.3" y="457.40" width="1.4" height="3.2" fill="#111"/>
<rect x="242.0" y="457.40" width="1.6" height="3.2" fill="#111"/>
<rect x="246.0" y="457.90" width="1.5" height="2.2" fill="#111"/>
<path d="M222.70 458.20 L223.50 459.00 L222.70 459.80" stroke="#555" stroke-width="0.4" fill="none"/>
<path d="M228.20 458.20 L229.00 459.00 L228.20 459.80" stroke="#555" stroke-width="0.4" fill="none"/>
<path d="M235.20 458.20 L236.00 459.00 L235.20 459.80" stroke="#555" stroke-width="0.4" fill="none"/>
<path d="M237.70 458.20 L238.50 459.00 L237.70 459.80" stroke="#555" stroke-width="0.4" fill="none"/>
<line x1="254.2" y1="459.0" x2="295.0" y2="459.0" stroke="#8a8a8a" stroke-width="0.7"/>
<rect x="254.2" y="457.90" width="3.3" height="2.2" fill="#111"/>
<rect x="278.0" y="457.80" width="0.7" height="2.4" fill="#333"/>
<rect x="284.4" y="457.80" width="0.7" height="2.4" fill="#333"/>
<path d="M261.80 458.20 L261.00 459.00 L261.80 459.80" stroke="#555" stroke-width="0.4" fill="none"/>
<path d="M265.80 458.20 L265.00 459.00 L265.80 459.80" stroke="#555" stroke-width="0.4" fill="none"/>
<path d="M269.80 458.20 L269.00 459.00 L269.80 459.80" stroke="#555" stroke-width="0.4" fill="none"/>
<path d="M273.80 458.20 L273.00 459.00 L273.80 459.80" stroke="#555" stroke-width="0.4" fill="none"/>
<path d="M277.80 458.20 L277.00 459.00 L277.80 459.80" stroke="#555" stroke-width="0.4" fill="none"/>
<path d="M281.80 458.20 L281.00 459.00 L281.80 459.80" stroke="#555" stroke-width="0.4" fill="none"/>
<path d="M285.80 458.20 L285.00 459.00 L285.80 459.80" stroke="#555" stroke-width="0.4" fill="none"/>
<path d="M289.80 458.20 L289.00 459.00 L289.80 459.80" stroke="#555" stroke-width="0.4" fill="none"/>
<path d="M293.80 458.20 L293.00 459.00 L293.80 459.80" stroke="#555" stroke-width="0.4" fill="none"/>
<path d="M294.0 457.70 L296.4 459.00 L294.0 460.30 Z" fill="#333"/>
<line x1="221.5" y1="460.5" x2="221.5" y2="465.5" stroke="#aaa" stroke-width="0.6"/>
<path d="M221.6 463.8 L226.2 465.1 L221.6 466.4 Z" fill="#111"/>
<text x="233.70" y="473.20" font-size="6.20" fill="#111" text-anchor="middle" stroke="#111" stroke-width="0.22">Coch</text>
<text x="273.40" y="473.20" font-size="6.20" fill="#111" text-anchor="middle" stroke="#111" stroke-width="0.22">Stm3</text>
<rect x="48.6" y="566.8" width="0.9" height="1.6" fill="#555"/>
<line x1="49.0" y1="567.6" x2="76.5" y2="567.6" stroke="#999" stroke-width="0.8"/>
<rect x="76.0" y="566.3" width="25.3" height="2.6" rx="0.8" fill="#0a0a0a"/>
<rect x="76.2" y="565.2" width="7.2" height="4.8" rx="2.0" fill="#0a0a0a"/>
<line x1="49.0" y1="568.4" x2="49.0" y2="574.3" stroke="#bbb" stroke-width="0.6"/>
<path d="M49.8 572.9 L54.0 574.3 L49.8 575.7 Z" fill="#111"/>
<text x="75.30" y="581.60" font-size="6.20" fill="#333" text-anchor="middle" stroke="#333" stroke-width="0.22">Kcnj2</text>
<line x1="185.3" y1="567.8" x2="297.3" y2="567.8" stroke="#8a8a8a" stroke-width="0.7"/>
<path d="M184.6 567.80 L187.2 566.40 L187.2 569.20 Z" fill="#111"/>
<rect x="187.0" y="566.50" width="1.0" height="2.6" rx="0.4" fill="#111"/>
<rect x="190.2" y="566.70" width="1.6" height="2.2" rx="0.4" fill="#111"/>
<rect x="201.0" y="566.50" width="1.2" height="2.6" rx="0.4" fill="#111"/>
<rect x="204.6" y="566.60" width="1.0" height="2.4" rx="0.4" fill="#111"/>
<rect x="208.8" y="566.40" width="1.6" height="2.8" rx="0.4" fill="#111"/>
<path d="M194.80 567.00 L194.00 567.80 L194.80 568.60" stroke="#555" stroke-width="0.4" fill="none"/>
<path d="M197.80 567.00 L197.00 567.80 L197.80 568.60" stroke="#555" stroke-width="0.4" fill="none"/>
<path d="M213.80 567.00 L213.00 567.80 L213.80 568.60" stroke="#555" stroke-width="0.4" fill="none"/>
<path d="M216.80 567.00 L216.00 567.80 L216.80 568.60" stroke="#555" stroke-width="0.4" fill="none"/>
<path d="M219.80 567.00 L219.00 567.80 L219.80 568.60" stroke="#555" stroke-width="0.4" fill="none"/>
<path d="M222.80 567.00 L222.00 567.80 L222.80 568.60" stroke="#555" stroke-width="0.4" fill="none"/>
<path d="M225.80 567.00 L225.00 567.80 L225.80 568.60" stroke="#555" stroke-width="0.4" fill="none"/>
<path d="M228.80 567.00 L228.00 567.80 L228.80 568.60" stroke="#555" stroke-width="0.4" fill="none"/>
<path d="M231.80 567.00 L231.00 567.80 L231.80 568.60" stroke="#555" stroke-width="0.4" fill="none"/>
<path d="M234.80 567.00 L234.00 567.80 L234.80 568.60" stroke="#555" stroke-width="0.4" fill="none"/>
<path d="M237.80 567.00 L237.00 567.80 L237.80 568.60" stroke="#555" stroke-width="0.4" fill="none"/>
<path d="M240.80 567.00 L240.00 567.80 L240.80 568.60" stroke="#555" stroke-width="0.4" fill="none"/>
<path d="M243.80 567.00 L243.00 567.80 L243.80 568.60" stroke="#555" stroke-width="0.4" fill="none"/>
<path d="M246.80 567.00 L246.00 567.80 L246.80 568.60" stroke="#555" stroke-width="0.4" fill="none"/>
<path d="M249.80 567.00 L249.00 567.80 L249.80 568.60" stroke="#555" stroke-width="0.4" fill="none"/>
<path d="M252.80 567.00 L252.00 567.80 L252.80 568.60" stroke="#555" stroke-width="0.4" fill="none"/>
<path d="M255.80 567.00 L255.00 567.80 L255.80 568.60" stroke="#555" stroke-width="0.4" fill="none"/>
<path d="M258.80 567.00 L258.00 567.80 L258.80 568.60" stroke="#555" stroke-width="0.4" fill="none"/>
<path d="M261.80 567.00 L261.00 567.80 L261.80 568.60" stroke="#555" stroke-width="0.4" fill="none"/>
<path d="M264.80 567.00 L264.00 567.80 L264.80 568.60" stroke="#555" stroke-width="0.4" fill="none"/>
<path d="M267.80 567.00 L267.00 567.80 L267.80 568.60" stroke="#555" stroke-width="0.4" fill="none"/>
<path d="M270.80 567.00 L270.00 567.80 L270.80 568.60" stroke="#555" stroke-width="0.4" fill="none"/>
<path d="M273.80 567.00 L273.00 567.80 L273.80 568.60" stroke="#555" stroke-width="0.4" fill="none"/>
<path d="M276.80 567.00 L276.00 567.80 L276.80 568.60" stroke="#555" stroke-width="0.4" fill="none"/>
<path d="M279.80 567.00 L279.00 567.80 L279.80 568.60" stroke="#555" stroke-width="0.4" fill="none"/>
<path d="M282.80 567.00 L282.00 567.80 L282.80 568.60" stroke="#555" stroke-width="0.4" fill="none"/>
<path d="M285.80 567.00 L285.00 567.80 L285.80 568.60" stroke="#555" stroke-width="0.4" fill="none"/>
<path d="M288.80 567.00 L288.00 567.80 L288.80 568.60" stroke="#555" stroke-width="0.4" fill="none"/>
<path d="M291.80 567.00 L291.00 567.80 L291.80 568.60" stroke="#555" stroke-width="0.4" fill="none"/>
<path d="M294.80 567.00 L294.00 567.80 L294.80 568.60" stroke="#555" stroke-width="0.4" fill="none"/>
<line x1="297.3" y1="567.8" x2="297.3" y2="574.0" stroke="#333" stroke-width="0.7"/>
<path d="M293.2 573.8 L297.6 572.3 L297.6 575.3 Z" fill="#111"/>
<text x="243.70" y="581.20" font-size="6.20" fill="#111" text-anchor="middle" stroke="#111" stroke-width="0.22">Ncam1</text>
<line x1="364.60" y1="386.70" x2="364.60" y2="457.40" stroke="#111" stroke-width="1.6"/>
<line x1="363.80" y1="456.60" x2="411.90" y2="456.60" stroke="#111" stroke-width="1.5"/>
<line x1="361.40" y1="456.60" x2="364.60" y2="456.60" stroke="#111" stroke-width="1.15"/>
<text x="359.00" y="459.35" font-size="6.70" fill="#2e2e2e" text-anchor="end" stroke="#2e2e2e" stroke-width="0.12">0</text>
<line x1="361.40" y1="439.28" x2="364.60" y2="439.28" stroke="#111" stroke-width="1.15"/>
<text x="359.00" y="442.03" font-size="6.70" fill="#2e2e2e" text-anchor="end" stroke="#2e2e2e" stroke-width="0.12">200</text>
<line x1="361.40" y1="421.95" x2="364.60" y2="421.95" stroke="#111" stroke-width="1.15"/>
<text x="359.00" y="424.70" font-size="6.70" fill="#2e2e2e" text-anchor="end" stroke="#2e2e2e" stroke-width="0.12">400</text>
<line x1="361.40" y1="404.62" x2="364.60" y2="404.62" stroke="#111" stroke-width="1.15"/>
<text x="359.00" y="407.38" font-size="6.70" fill="#2e2e2e" text-anchor="end" stroke="#2e2e2e" stroke-width="0.12">600</text>
<line x1="361.40" y1="387.30" x2="364.60" y2="387.30" stroke="#111" stroke-width="1.15"/>
<text x="359.00" y="390.05" font-size="6.70" fill="#2e2e2e" text-anchor="end" stroke="#2e2e2e" stroke-width="0.12">800</text>
<rect x="392.00" y="412.30" width="15.90" height="44.30" fill="#aa062b"/>
<line x1="400.00" y1="412.30" x2="400.00" y2="401.20" stroke="#333" stroke-width="1.2"/>
<line x1="395.60" y1="401.20" x2="404.40" y2="401.20" stroke="#111" stroke-width="1.1"/>
<text x="400.20" y="399.60" font-size="6.00" fill="#111" text-anchor="middle" stroke="#111" stroke-width="0.22">**</text>
<text x="389.00" y="378.80" font-size="8.30" fill="#0a0a0a" text-anchor="middle" font-weight="bold" font-style="italic">Pou3f4</text>
<text x="0" y="0" font-size="7.60" fill="#1a1a1a" stroke="#1a1a1a" stroke-width="0.25" text-anchor="middle" transform="translate(342.35 422.45) rotate(-90)">Relative expression</text>
<text x="0" y="0" font-size="6.2" fill="#111" stroke="#111" stroke-width="0.2" text-anchor="end" transform="translate(380.00 462.50) rotate(-45)">Ctrl-MP</text>
<text x="0" y="0" font-size="6.2" fill="#111" stroke="#111" stroke-width="0.2" text-anchor="end" transform="translate(402.00 462.50) rotate(-45)">AML-MP</text>
<line x1="372.8" y1="455.6" x2="381.6" y2="455.6" stroke="#3a1a1a" stroke-width="0.8"/>
<line x1="460.40" y1="386.70" x2="460.40" y2="457.60" stroke="#111" stroke-width="1.6"/>
<line x1="459.60" y1="456.80" x2="507.60" y2="456.80" stroke="#111" stroke-width="1.5"/>
<line x1="457.20" y1="456.80" x2="460.40" y2="456.80" stroke="#111" stroke-width="1.15"/>
<text x="454.80" y="459.55" font-size="6.70" fill="#2e2e2e" text-anchor="end" stroke="#2e2e2e" stroke-width="0.12">0</text>
<line x1="457.20" y1="433.63" x2="460.40" y2="433.63" stroke="#111" stroke-width="1.15"/>
<text x="454.80" y="436.38" font-size="6.70" fill="#2e2e2e" text-anchor="end" stroke="#2e2e2e" stroke-width="0.12">1000</text>
<line x1="457.20" y1="410.47" x2="460.40" y2="410.47" stroke="#111" stroke-width="1.15"/>
<text x="454.80" y="413.22" font-size="6.70" fill="#2e2e2e" text-anchor="end" stroke="#2e2e2e" stroke-width="0.12">2000</text>
<line x1="457.20" y1="387.30" x2="460.40" y2="387.30" stroke="#111" stroke-width="1.15"/>
<text x="454.80" y="390.05" font-size="6.70" fill="#2e2e2e" text-anchor="end" stroke="#2e2e2e" stroke-width="0.12">3000</text>
<rect x="488.30" y="397.10" width="15.40" height="59.70" fill="#aa062b"/>
<line x1="496.00" y1="397.10" x2="496.00" y2="394.20" stroke="#333" stroke-width="1.2"/>
<line x1="492.60" y1="394.20" x2="499.40" y2="394.20" stroke="#111" stroke-width="1.1"/>
<text x="496.00" y="392.60" font-size="6.00" fill="#111" text-anchor="middle" stroke="#111" stroke-width="0.22">***</text>
<text x="484.60" y="378.80" font-size="8.30" fill="#0a0a0a" text-anchor="middle" font-weight="bold" font-style="italic">Coch</text>
<text x="0" y="0" font-size="7.60" fill="#1a1a1a" stroke="#1a1a1a" stroke-width="0.25" text-anchor="middle" transform="translate(434.25 422.55) rotate(-90)">Relative expression</text>
<text x="0" y="0" font-size="6.2" fill="#111" stroke="#111" stroke-width="0.2" text-anchor="end" transform="translate(476.00 462.50) rotate(-45)">Ctrl-MP</text>
<text x="0" y="0" font-size="6.2" fill="#111" stroke="#111" stroke-width="0.2" text-anchor="end" transform="translate(498.50 462.50) rotate(-45)">AML-MP</text>
<line x1="365.40" y1="503.90" x2="365.40" y2="574.60" stroke="#111" stroke-width="1.6"/>
<line x1="364.60" y1="573.80" x2="410.80" y2="573.80" stroke="#111" stroke-width="1.5"/>
<line x1="362.20" y1="573.80" x2="365.40" y2="573.80" stroke="#111" stroke-width="1.15"/>
<text x="358.60" y="576.55" font-size="6.70" fill="#2e2e2e" text-anchor="end" stroke="#2e2e2e" stroke-width="0.12">0</text>
<line x1="362.20" y1="559.94" x2="365.40" y2="559.94" stroke="#111" stroke-width="1.15"/>
<text x="358.60" y="562.69" font-size="6.70" fill="#2e2e2e" text-anchor="end" stroke="#2e2e2e" stroke-width="0.12">500</text>
<line x1="362.20" y1="546.08" x2="365.40" y2="546.08" stroke="#111" stroke-width="1.15"/>
<text x="358.60" y="548.83" font-size="6.70" fill="#2e2e2e" text-anchor="end" stroke="#2e2e2e" stroke-width="0.12">1000</text>
<line x1="362.20" y1="532.22" x2="365.40" y2="532.22" stroke="#111" stroke-width="1.15"/>
<text x="358.60" y="534.97" font-size="6.70" fill="#2e2e2e" text-anchor="end" stroke="#2e2e2e" stroke-width="0.12">1500</text>
<line x1="362.20" y1="518.36" x2="365.40" y2="518.36" stroke="#111" stroke-width="1.15"/>
<text x="358.60" y="521.11" font-size="6.70" fill="#2e2e2e" text-anchor="end" stroke="#2e2e2e" stroke-width="0.12">2000</text>
<line x1="362.20" y1="504.50" x2="365.40" y2="504.50" stroke="#111" stroke-width="1.15"/>
<text x="358.60" y="507.25" font-size="6.70" fill="#2e2e2e" text-anchor="end" stroke="#2e2e2e" stroke-width="0.12">2500</text>
<rect x="392.00" y="520.00" width="16.00" height="53.80" fill="#aa062b"/>
<line x1="400.00" y1="520.00" x2="400.00" y2="513.30" stroke="#333" stroke-width="1.2"/>
<line x1="397.40" y1="513.30" x2="404.40" y2="513.30" stroke="#111" stroke-width="1.1"/>
<text x="400.50" y="512.00" font-size="6.00" fill="#111" text-anchor="middle" stroke="#111" stroke-width="0.22">**</text>
<text x="388.60" y="495.40" font-size="8.30" fill="#0a0a0a" text-anchor="middle" font-weight="bold" font-style="italic">Yap1</text>
<text x="0" y="0" font-size="7.60" fill="#1a1a1a" stroke="#1a1a1a" stroke-width="0.25" text-anchor="middle" transform="translate(338.25 539.65) rotate(-90)">Relative expression</text>
<text x="0" y="0" font-size="6.2" fill="#111" stroke="#111" stroke-width="0.2" text-anchor="end" transform="translate(381.50 579.00) rotate(-45)">Ctrl-MP</text>
<text x="0" y="0" font-size="6.2" fill="#111" stroke="#111" stroke-width="0.2" text-anchor="end" transform="translate(403.00 579.00) rotate(-45)">AML-MP</text>
<line x1="460.40" y1="504.00" x2="460.40" y2="574.60" stroke="#111" stroke-width="1.6"/>
<line x1="459.60" y1="573.80" x2="507.60" y2="573.80" stroke="#111" stroke-width="1.5"/>
<line x1="457.20" y1="573.80" x2="460.40" y2="573.80" stroke="#111" stroke-width="1.15"/>
<text x="454.50" y="576.55" font-size="6.70" fill="#2e2e2e" text-anchor="end" stroke="#2e2e2e" stroke-width="0.12">0</text>
<line x1="457.20" y1="550.73" x2="460.40" y2="550.73" stroke="#111" stroke-width="1.15"/>
<text x="454.50" y="553.48" font-size="6.70" fill="#2e2e2e" text-anchor="end" stroke="#2e2e2e" stroke-width="0.12">1000</text>
<line x1="457.20" y1="527.67" x2="460.40" y2="527.67" stroke="#111" stroke-width="1.15"/>
<text x="454.50" y="530.42" font-size="6.70" fill="#2e2e2e" text-anchor="end" stroke="#2e2e2e" stroke-width="0.12">2000</text>
<line x1="457.20" y1="504.60" x2="460.40" y2="504.60" stroke="#111" stroke-width="1.15"/>
<text x="454.50" y="507.35" font-size="6.70" fill="#2e2e2e" text-anchor="end" stroke="#2e2e2e" stroke-width="0.12">3000</text>
<rect x="488.30" y="518.10" width="15.40" height="55.70" fill="#aa062b"/>
<line x1="496.20" y1="518.10" x2="496.20" y2="511.70" stroke="#333" stroke-width="1.2"/>
<line x1="492.80" y1="511.70" x2="499.80" y2="511.70" stroke="#111" stroke-width="1.1"/>
<text x="496.40" y="510.40" font-size="6.00" fill="#111" text-anchor="middle" stroke="#111" stroke-width="0.22">**</text>
<text x="484.40" y="495.40" font-size="8.30" fill="#0a0a0a" text-anchor="middle" font-weight="bold" font-style="italic">Pcsk6</text>
<text x="0" y="0" font-size="7.60" fill="#1a1a1a" stroke="#1a1a1a" stroke-width="0.25" text-anchor="middle" transform="translate(434.25 539.70) rotate(-90)">Relative expression</text>
<text x="0" y="0" font-size="6.2" fill="#111" stroke="#111" stroke-width="0.2" text-anchor="end" transform="translate(476.80 579.50) rotate(-45)">Ctrl-MP</text>
<text x="0" y="0" font-size="6.2" fill="#111" stroke="#111" stroke-width="0.2" text-anchor="end" transform="translate(499.40 579.00) rotate(-45)">AML-MP</text>
<line x1="44.50" y1="613.60" x2="44.50" y2="686.20" stroke="#111" stroke-width="1.6"/>
<line x1="43.70" y1="685.40" x2="91.20" y2="685.40" stroke="#111" stroke-width="1.5"/>
<line x1="41.30" y1="685.40" x2="44.50" y2="685.40" stroke="#111" stroke-width="1.15"/>
<text x="37.80" y="688.15" font-size="6.70" fill="#2e2e2e" text-anchor="end" stroke="#2e2e2e" stroke-width="0.12">0.0</text>
<line x1="41.30" y1="667.60" x2="44.50" y2="667.60" stroke="#111" stroke-width="1.15"/>
<text x="37.80" y="670.35" font-size="6.70" fill="#2e2e2e" text-anchor="end" stroke="#2e2e2e" stroke-width="0.12">0.5</text>
<line x1="41.30" y1="649.80" x2="44.50" y2="649.80" stroke="#111" stroke-width="1.15"/>
<text x="37.80" y="652.55" font-size="6.70" fill="#2e2e2e" text-anchor="end" stroke="#2e2e2e" stroke-width="0.12">1.0</text>
<line x1="41.30" y1="632.00" x2="44.50" y2="632.00" stroke="#111" stroke-width="1.15"/>
<text x="37.80" y="634.75" font-size="6.70" fill="#2e2e2e" text-anchor="end" stroke="#2e2e2e" stroke-width="0.12">1.5</text>
<line x1="41.30" y1="614.20" x2="44.50" y2="614.20" stroke="#111" stroke-width="1.15"/>
<text x="37.80" y="616.95" font-size="6.70" fill="#2e2e2e" text-anchor="end" stroke="#2e2e2e" stroke-width="0.12">2.0</text>
<rect x="48.20" y="645.90" width="15.90" height="39.50" fill="#532467"/>
<line x1="56.15" y1="645.90" x2="56.15" y2="633.70" stroke="#333" stroke-width="1.2"/>
<line x1="52.20" y1="633.70" x2="60.80" y2="633.70" stroke="#111" stroke-width="1.1"/>
<text x="80.00" y="683.20" font-size="6.00" fill="#111" text-anchor="middle" stroke="#111" stroke-width="0.22">*</text>
<text x="68.30" y="601.90" font-size="8.55" fill="#0a0a0a" text-anchor="middle" font-weight="bold" font-style="italic">Hsd11b1</text>
<text x="0" y="0" font-size="7.60" fill="#1a1a1a" stroke="#1a1a1a" stroke-width="0.25" text-anchor="middle" transform="translate(22.75 650.30) rotate(-90)">Relative expression</text>
<text x="0" y="0" font-size="6.2" fill="#111" stroke="#111" stroke-width="0.2" text-anchor="end" transform="translate(58.70 691.50) rotate(-45)">Ctrl-MP</text>
<text x="0" y="0" font-size="6.2" fill="#111" stroke="#111" stroke-width="0.2" text-anchor="end" transform="translate(82.00 691.00) rotate(-45)">AML-MP</text>
<line x1="125.30" y1="613.60" x2="125.30" y2="686.20" stroke="#111" stroke-width="1.6"/>
<line x1="124.50" y1="685.40" x2="172.00" y2="685.40" stroke="#111" stroke-width="1.5"/>
<line x1="122.10" y1="685.40" x2="125.30" y2="685.40" stroke="#111" stroke-width="1.15"/>
<text x="118.85" y="688.15" font-size="6.70" fill="#2e2e2e" text-anchor="end" stroke="#2e2e2e" stroke-width="0.12">0.0</text>
<line x1="122.10" y1="661.67" x2="125.30" y2="661.67" stroke="#111" stroke-width="1.15"/>
<text x="118.85" y="664.42" font-size="6.70" fill="#2e2e2e" text-anchor="end" stroke="#2e2e2e" stroke-width="0.12">0.5</text>
<line x1="122.10" y1="637.93" x2="125.30" y2="637.93" stroke="#111" stroke-width="1.15"/>
<text x="118.85" y="640.68" font-size="6.70" fill="#2e2e2e" text-anchor="end" stroke="#2e2e2e" stroke-width="0.12">1.0</text>
<line x1="122.10" y1="614.20" x2="125.30" y2="614.20" stroke="#111" stroke-width="1.15"/>
<text x="118.85" y="616.95" font-size="6.70" fill="#2e2e2e" text-anchor="end" stroke="#2e2e2e" stroke-width="0.12">1.5</text>
<rect x="129.00" y="636.80" width="16.00" height="48.60" fill="#532467"/>
<line x1="137.00" y1="636.80" x2="137.00" y2="631.10" stroke="#333" stroke-width="1.2"/>
<line x1="133.60" y1="631.10" x2="141.40" y2="631.10" stroke="#111" stroke-width="1.1"/>
<text x="160.70" y="683.20" font-size="6.00" fill="#111" text-anchor="middle" stroke="#111" stroke-width="0.22">**</text>
<text x="148.90" y="601.90" font-size="8.55" fill="#0a0a0a" text-anchor="middle" font-weight="bold" font-style="italic">Dock1</text>
<text x="0" y="0" font-size="7.60" fill="#1a1a1a" stroke="#1a1a1a" stroke-width="0.25" text-anchor="middle" transform="translate(103.20 650.30) rotate(-90)">Relative expression</text>
<text x="0" y="0" font-size="6.2" fill="#111" stroke="#111" stroke-width="0.2" text-anchor="end" transform="translate(139.50 691.50) rotate(-45)">Ctrl-MP</text>
<text x="0" y="0" font-size="6.2" fill="#111" stroke="#111" stroke-width="0.2" text-anchor="end" transform="translate(162.80 691.00) rotate(-45)">AML-MP</text>
<line x1="205.80" y1="613.60" x2="205.80" y2="686.20" stroke="#111" stroke-width="1.6"/>
<line x1="205.00" y1="685.40" x2="253.00" y2="685.40" stroke="#111" stroke-width="1.5"/>
<line x1="202.60" y1="685.40" x2="205.80" y2="685.40" stroke="#111" stroke-width="1.15"/>
<text x="199.60" y="688.15" font-size="6.70" fill="#2e2e2e" text-anchor="end" stroke="#2e2e2e" stroke-width="0.12">0.0</text>
<line x1="202.60" y1="661.67" x2="205.80" y2="661.67" stroke="#111" stroke-width="1.15"/>
<text x="199.60" y="664.42" font-size="6.70" fill="#2e2e2e" text-anchor="end" stroke="#2e2e2e" stroke-width="0.12">0.5</text>
<line x1="202.60" y1="637.93" x2="205.80" y2="637.93" stroke="#111" stroke-width="1.15"/>
<text x="199.60" y="640.68" font-size="6.70" fill="#2e2e2e" text-anchor="end" stroke="#2e2e2e" stroke-width="0.12">1.0</text>
<line x1="202.60" y1="614.20" x2="205.80" y2="614.20" stroke="#111" stroke-width="1.15"/>
<text x="199.60" y="616.95" font-size="6.70" fill="#2e2e2e" text-anchor="end" stroke="#2e2e2e" stroke-width="0.12">1.5</text>
<rect x="210.30" y="635.80" width="15.40" height="49.60" fill="#532467"/>
<line x1="218.00" y1="635.80" x2="218.00" y2="619.30" stroke="#333" stroke-width="1.2"/>
<line x1="214.30" y1="619.30" x2="222.40" y2="619.30" stroke="#111" stroke-width="1.1"/>
<text x="242.00" y="683.20" font-size="6.00" fill="#111" text-anchor="middle" stroke="#111" stroke-width="0.22">*</text>
<text x="230.20" y="601.90" font-size="8.55" fill="#0a0a0a" text-anchor="middle" font-weight="bold" font-style="italic">Plau</text>
<text x="0" y="0" font-size="7.60" fill="#1a1a1a" stroke="#1a1a1a" stroke-width="0.25" text-anchor="middle" transform="translate(184.70 650.30) rotate(-90)">Relative expression</text>
<text x="0" y="0" font-size="6.2" fill="#111" stroke="#111" stroke-width="0.2" text-anchor="end" transform="translate(220.00 691.50) rotate(-45)">Ctrl-MP</text>
<text x="0" y="0" font-size="6.2" fill="#111" stroke="#111" stroke-width="0.2" text-anchor="end" transform="translate(243.30 691.00) rotate(-45)">AML-MP</text>
<line x1="286.70" y1="613.60" x2="286.70" y2="686.20" stroke="#111" stroke-width="1.6"/>
<line x1="285.90" y1="685.40" x2="333.70" y2="685.40" stroke="#111" stroke-width="1.5"/>
<line x1="283.50" y1="685.40" x2="286.70" y2="685.40" stroke="#111" stroke-width="1.15"/>
<text x="280.80" y="688.15" font-size="6.70" fill="#2e2e2e" text-anchor="end" stroke="#2e2e2e" stroke-width="0.12">0.0</text>
<line x1="283.50" y1="661.67" x2="286.70" y2="661.67" stroke="#111" stroke-width="1.15"/>
<text x="280.80" y="664.42" font-size="6.70" fill="#2e2e2e" text-anchor="end" stroke="#2e2e2e" stroke-width="0.12">0.5</text>
<line x1="283.50" y1="637.93" x2="286.70" y2="637.93" stroke="#111" stroke-width="1.15"/>
<text x="280.80" y="640.68" font-size="6.70" fill="#2e2e2e" text-anchor="end" stroke="#2e2e2e" stroke-width="0.12">1.0</text>
<line x1="283.50" y1="614.20" x2="286.70" y2="614.20" stroke="#111" stroke-width="1.15"/>
<text x="280.80" y="616.95" font-size="6.70" fill="#2e2e2e" text-anchor="end" stroke="#2e2e2e" stroke-width="0.12">1.5</text>
<rect x="291.30" y="636.80" width="15.20" height="48.60" fill="#532467"/>
<line x1="298.90" y1="636.80" x2="298.90" y2="626.70" stroke="#333" stroke-width="1.2"/>
<line x1="294.80" y1="626.70" x2="303.50" y2="626.70" stroke="#111" stroke-width="1.1"/>
<text x="322.00" y="683.20" font-size="6.00" fill="#111" text-anchor="middle" stroke="#111" stroke-width="0.22">**</text>
<text x="310.70" y="601.90" font-size="8.55" fill="#0a0a0a" text-anchor="middle" font-weight="bold" font-style="italic">Sgms2</text>
<text x="0" y="0" font-size="7.60" fill="#1a1a1a" stroke="#1a1a1a" stroke-width="0.25" text-anchor="middle" transform="translate(264.50 650.30) rotate(-90)">Relative expression</text>
<text x="0" y="0" font-size="6.2" fill="#111" stroke="#111" stroke-width="0.2" text-anchor="end" transform="translate(300.90 691.50) rotate(-45)">Ctrl-MP</text>
<text x="0" y="0" font-size="6.2" fill="#111" stroke="#111" stroke-width="0.2" text-anchor="end" transform="translate(324.20 691.00) rotate(-45)">AML-MP</text>
<rect x="0" y="0" width="520" height="1.35" fill="#000"/>
<rect x="0" y="0" width="1.35" height="718" fill="#000"/>
<rect x="518.65" y="0" width="1.35" height="718" fill="#000"/>
<rect x="0" y="716.65" width="520" height="1.35" fill="#000"/>
</svg>
</body></html>
